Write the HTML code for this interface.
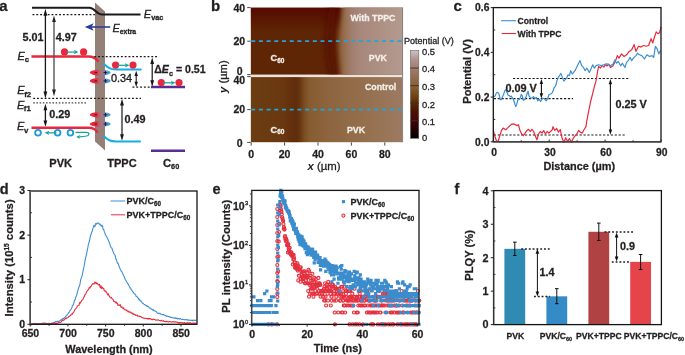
<!DOCTYPE html><html><head><meta charset="utf-8"><style>html,body{margin:0;padding:0;background:#fff;}svg{display:block;filter:blur(0.35px);}</style></head><body>
<svg width="685" height="355" viewBox="0 0 685 355" font-family='"Liberation Sans", sans-serif'>
<defs><linearGradient id="dip" x1="0" x2="1" y1="0" y2="0"><stop offset="0" stop-color="#e8283c"/><stop offset="0.3" stop-color="#e8283c"/><stop offset="0.52" stop-color="#c06878" stop-opacity="0.7"/><stop offset="0.75" stop-color="#6a8cc8" stop-opacity="0.85"/><stop offset="1" stop-color="#1e9de0"/></linearGradient></defs>
<defs><linearGradient id="upH" x1="250.6" x2="402.4" y1="0" y2="0" gradientUnits="userSpaceOnUse"><stop offset="0.0000" stop-color="#5e2406"/><stop offset="0.3254" stop-color="#5f2605"/><stop offset="0.4242" stop-color="#5a1a03"/><stop offset="0.4901" stop-color="#560c01"/><stop offset="0.5362" stop-color="#5a1403"/><stop offset="0.5626" stop-color="#64280a"/><stop offset="0.5823" stop-color="#7a4a22"/><stop offset="0.6021" stop-color="#8c5f3a"/><stop offset="0.6285" stop-color="#9b7360"/><stop offset="0.6548" stop-color="#a27f6e"/><stop offset="0.6943" stop-color="#a88a7c"/><stop offset="0.8524" stop-color="#ad9083"/><stop offset="1.0000" stop-color="#b39a8f"/></linearGradient><clipPath id="upClip"><rect x="250.6" y="7.4" width="151.8" height="67.4"/></clipPath><clipPath id="loClip"><rect x="250.6" y="77.1" width="151.8" height="65.3"/></clipPath><filter id="soft2" x="-20%" y="-20%" width="140%" height="140%"><feGaussianBlur stdDeviation="2.2"/></filter><filter id="soft3" x="-50%" y="-20%" width="200%" height="140%"><feGaussianBlur stdDeviation="3"/></filter><linearGradient id="upR" x1="336" x2="402.4" y1="0" y2="0" gradientUnits="userSpaceOnUse"><stop offset="0" stop-color="#8a5a30"/><stop offset="0.1" stop-color="#946844"/><stop offset="0.2" stop-color="#9e7a66"/><stop offset="0.32" stop-color="#a6867a"/><stop offset="0.65" stop-color="#ad9083"/><stop offset="1" stop-color="#b39a8f"/></linearGradient><linearGradient id="upV" x1="0" x2="0" y1="7.4" y2="32" gradientUnits="userSpaceOnUse"><stop offset="0" stop-color="#540400" stop-opacity="0.8"/><stop offset="0.35" stop-color="#540400" stop-opacity="0.55"/><stop offset="1" stop-color="#540400" stop-opacity="0"/></linearGradient><linearGradient id="loH" x1="250.6" x2="402.4" y1="0" y2="0" gradientUnits="userSpaceOnUse"><stop offset="0.0000" stop-color="#6c3c12"/><stop offset="0.2266" stop-color="#693810"/><stop offset="0.2991" stop-color="#62300c"/><stop offset="0.3254" stop-color="#6a3a12"/><stop offset="0.3518" stop-color="#7a4e24"/><stop offset="0.3913" stop-color="#875c30"/><stop offset="0.5231" stop-color="#8d6540"/><stop offset="0.7207" stop-color="#946e4b"/><stop offset="1.0000" stop-color="#9c7a62"/></linearGradient><linearGradient id="loV" x1="0" x2="0" y1="0" y2="1"><stop offset="0" stop-color="#000" stop-opacity="0"/><stop offset="1" stop-color="#000" stop-opacity="0"/></linearGradient><linearGradient id="cbar" x1="0" x2="0" y1="0" y2="1"><stop offset="0" stop-color="#cdc2c2"/><stop offset="0.1" stop-color="#b09590"/><stop offset="0.2" stop-color="#a07e6e"/><stop offset="0.3" stop-color="#946c50"/><stop offset="0.4" stop-color="#8a6034"/><stop offset="0.5" stop-color="#734818"/><stop offset="0.6" stop-color="#5a2c06"/><stop offset="0.7" stop-color="#4a1004"/><stop offset="0.8" stop-color="#42050a"/><stop offset="0.9" stop-color="#240004"/><stop offset="1" stop-color="#000"/></linearGradient></defs>
<text stroke="#231f20" stroke-width="0.28" x="-0.80" y="10.70" font-size="15" font-weight="bold" font-style="normal" text-anchor="start" fill="#231f20" >a</text>
<polygon points="95,2.5 105,11.6 105,150.4 95,141.5" fill="#948076"/>
<path d="M32,7.7 L89.5,7.7 C95,7.7 96,14.4 102,14.4 L140.5,14.4" fill="none" stroke="#1a1a1a" stroke-width="2"/>
<line x1="32.50" y1="14.50" x2="95.00" y2="14.50" stroke="#1a1a1a" stroke-width="1.25" stroke-dasharray="1.9 1.9"/>
<line x1="110.2" y1="27" x2="90" y2="27" stroke="#2b3d9b" stroke-width="1.6"/>
<path d="M84.8,27 L93.6,23.3 L91.6,27 L93.6,30.7 Z" fill="#2b3d9b"/>
<ellipse cx="100.2" cy="72.6" rx="10.5" ry="2.9" fill="url(#dip)"/>
<line x1="94.70" y1="72.60" x2="97.10" y2="72.60" stroke="#2a1a1a" stroke-width="1.0" />
<line x1="103.50" y1="72.60" x2="107.30" y2="72.60" stroke="#1a1a22" stroke-width="0.95" />
<line x1="105.40" y1="70.70" x2="105.40" y2="74.50" stroke="#1a1a22" stroke-width="0.95" />
<ellipse cx="100.2" cy="80.9" rx="10.5" ry="2.9" fill="url(#dip)"/>
<line x1="94.70" y1="80.90" x2="97.10" y2="80.90" stroke="#2a1a1a" stroke-width="1.0" />
<line x1="103.50" y1="80.90" x2="107.30" y2="80.90" stroke="#1a1a22" stroke-width="0.95" />
<line x1="105.40" y1="79.00" x2="105.40" y2="82.80" stroke="#1a1a22" stroke-width="0.95" />
<ellipse cx="100.2" cy="114.8" rx="10.5" ry="2.9" fill="url(#dip)"/>
<line x1="94.70" y1="114.80" x2="97.10" y2="114.80" stroke="#2a1a1a" stroke-width="1.0" />
<line x1="103.50" y1="114.80" x2="107.30" y2="114.80" stroke="#1a1a22" stroke-width="0.95" />
<line x1="105.40" y1="112.90" x2="105.40" y2="116.70" stroke="#1a1a22" stroke-width="0.95" />
<ellipse cx="100.2" cy="124.0" rx="10.5" ry="2.9" fill="url(#dip)"/>
<line x1="94.70" y1="124.00" x2="97.10" y2="124.00" stroke="#2a1a1a" stroke-width="1.0" />
<line x1="103.50" y1="124.00" x2="107.30" y2="124.00" stroke="#1a1a22" stroke-width="0.95" />
<line x1="105.40" y1="122.10" x2="105.40" y2="125.90" stroke="#1a1a22" stroke-width="0.95" />
<path d="M31.5,56.6 L88,56.6 C93.5,56.6 96.5,58.5 98.2,61.8" fill="none" stroke="#e8283c" stroke-width="2.5"/>
<path d="M31.5,127.7 L88.5,127.7 C93.5,127.7 96.2,129.8 97.6,132.6" fill="none" stroke="#e8283c" stroke-width="2.5"/>
<path d="M104.3,64.2 C108,67.5 110,69.4 116,69.4 L140.8,69.4" fill="none" stroke="#12aee6" stroke-width="2" stroke-linecap="round"/>
<path d="M104.2,136.6 C108,140 110,141.4 116,141.4 L140,141.4" fill="none" stroke="#12aee6" stroke-width="2" stroke-linecap="round"/>
<line x1="151.00" y1="87.00" x2="185.00" y2="87.00" stroke="#5b2d8e" stroke-width="2.4" />
<line x1="151.00" y1="150.80" x2="185.00" y2="150.80" stroke="#5b2d8e" stroke-width="2.4" />
<line x1="94.30" y1="56.60" x2="158.00" y2="56.60" stroke="#1a1a1a" stroke-width="1.2" stroke-dasharray="1.9 1.9"/>
<line x1="33.20" y1="98.30" x2="141.00" y2="98.30" stroke="#1a1a1a" stroke-width="1.2" stroke-dasharray="1.9 1.9"/>
<line x1="33.20" y1="102.90" x2="86.00" y2="102.90" stroke="#4a4a4a" stroke-width="1.25" stroke-dasharray="1.6 1.6"/>
<line x1="132.50" y1="87.20" x2="151.00" y2="87.20" stroke="#1a1a1a" stroke-width="1.2" stroke-dasharray="1.9 1.9"/>
<circle cx="64.50" cy="51.90" r="3.6" fill="#e8283c"/>
<circle cx="83.60" cy="51.90" r="3.6" fill="#e8283c"/>
<line x1="66.60" y1="52.10" x2="75.00" y2="52.10" stroke="#17a398" stroke-width="1.25" />
<path d="M78.50,52.10 L73.90,50.00 L74.90,52.10 L73.90,54.20 Z" fill="#17a398"/>
<circle cx="115.60" cy="65.10" r="3.6" fill="#e8283c"/>
<circle cx="133.00" cy="65.10" r="3.6" fill="#e8283c"/>
<line x1="117.50" y1="65.30" x2="126.00" y2="65.30" stroke="#17a398" stroke-width="1.25" />
<path d="M129.50,65.30 L124.90,63.20 L125.90,65.30 L124.90,67.40 Z" fill="#17a398"/>
<circle cx="161.30" cy="82.60" r="3.6" fill="#e8283c"/>
<circle cx="179.00" cy="82.60" r="3.6" fill="#e8283c"/>
<line x1="163.00" y1="82.80" x2="172.00" y2="82.80" stroke="#17a398" stroke-width="1.25" />
<path d="M175.50,82.80 L170.90,80.70 L171.90,82.80 L170.90,84.90 Z" fill="#17a398"/>
<circle cx="38.0" cy="132.8" r="2.85" fill="none" stroke="#1b9ad9" stroke-width="1.8"/>
<circle cx="57.6" cy="132.8" r="2.85" fill="none" stroke="#1b9ad9" stroke-width="1.8"/>
<circle cx="70.4" cy="132.8" r="2.85" fill="none" stroke="#1b9ad9" stroke-width="1.8"/>
<line x1="56.60" y1="132.80" x2="48.10" y2="132.80" stroke="#17a398" stroke-width="1.25" />
<path d="M44.60,132.80 L49.20,130.70 L48.20,132.80 L49.20,134.90 Z" fill="#17a398"/>
<path d="M75.5,132.4 L86,132.4 C90,132.4 89.5,135.2 86.5,136.0 C84,136.6 81,136.8 79.5,136.8" fill="none" stroke="#17a398" stroke-width="1.2"/>
<path d="M76,136.9 L80.2,135.0 L79.4,136.9 L80.2,138.8 Z" fill="#17a398"/>
<line x1="45.40" y1="14.40" x2="45.40" y2="93.00" stroke="#151515" stroke-width="1.3" />
<path d="M45.40,8.80 L43.50,15.80 L47.30,15.80 Z" fill="#151515"/>
<path d="M45.40,98.60 L43.50,91.60 L47.30,91.60 Z" fill="#151515"/>
<line x1="54.00" y1="20.68" x2="54.00" y2="90.92" stroke="#555" stroke-width="1.4" />
<path d="M54.00,15.40 L52.10,22.00 L55.90,22.00 Z" fill="#222"/>
<path d="M54.00,96.20 L52.10,89.60 L55.90,89.60 Z" fill="#222"/>
<line x1="45.40" y1="108.92" x2="45.40" y2="121.68" stroke="#151515" stroke-width="1.3" />
<path d="M45.40,103.80 L43.50,110.20 L47.30,110.20 Z" fill="#151515"/>
<path d="M45.40,126.80 L43.50,120.40 L47.30,120.40 Z" fill="#151515"/>
<line x1="136.20" y1="74.96" x2="136.20" y2="82.84" stroke="#151515" stroke-width="1.1" />
<path d="M136.20,70.80 L134.50,76.00 L137.90,76.00 Z" fill="#151515"/>
<path d="M136.20,87.00 L134.50,81.80 L137.90,81.80 Z" fill="#151515"/>
<line x1="152.20" y1="62.68" x2="152.20" y2="81.52" stroke="#151515" stroke-width="1.2" />
<path d="M152.20,57.40 L150.30,64.00 L154.10,64.00 Z" fill="#151515"/>
<path d="M152.20,86.80 L150.30,80.20 L154.10,80.20 Z" fill="#151515"/>
<line x1="122.00" y1="104.08" x2="122.00" y2="135.52" stroke="#151515" stroke-width="1.2" />
<path d="M122.00,98.80 L120.10,105.40 L123.90,105.40 Z" fill="#151515"/>
<path d="M122.00,140.80 L120.10,134.20 L123.90,134.20 Z" fill="#151515"/>
<text stroke="#231f20" stroke-width="0.28" x="22.40" y="40.90" font-size="10.8" font-weight="bold" font-style="normal" text-anchor="start" fill="#231f20" >5.01</text>
<text stroke="#231f20" stroke-width="0.28" x="55.70" y="40.90" font-size="10.8" font-weight="bold" font-style="normal" text-anchor="start" fill="#231f20" >4.97</text>
<text stroke="#231f20" stroke-width="0.28" x="49.20" y="117.90" font-size="10.8" font-weight="bold" font-style="normal" text-anchor="start" fill="#231f20" >0.29</text>
<text x="110.90" y="82.00" font-size="10.9" font-weight="normal" font-style="normal" text-anchor="start" fill="#231f20" stroke="#231f20" stroke-width="0.35">0.34</text>
<text stroke="#231f20" stroke-width="0.28" x="124.60" y="122.90" font-size="10.8" font-weight="bold" font-style="normal" text-anchor="start" fill="#231f20" >0.49</text>
<text stroke="#231f20" stroke-width="0.28" x="154.2" y="73.4" font-size="10.6" font-weight="bold" fill="#231f20">Δ<tspan font-style="italic">E</tspan><tspan font-size="7.3" dy="2.3">c</tspan><tspan dy="-2.3"> = 0.51</tspan></text>
<text stroke="#231f20" stroke-width="0.3" x="17.60" y="59.80" font-size="11" font-weight="normal" font-style="italic" fill="#231f20">E<tspan font-size="7.8" font-style="normal" font-weight="bold" dx="-0.2" dy="2.3">c</tspan></text>
<text stroke="#231f20" stroke-width="0.3" x="17.30" y="94.20" font-size="11" font-weight="normal" font-style="italic" fill="#231f20">E<tspan font-size="7.8" font-style="normal" font-weight="bold" dx="-0.5" dy="2.3">f2</tspan></text>
<text stroke="#231f20" stroke-width="0.3" x="17.00" y="109.00" font-size="11" font-weight="normal" font-style="italic" fill="#231f20">E<tspan font-size="7.8" font-style="normal" font-weight="bold" dx="-0.5" dy="2.3">f1</tspan></text>
<text stroke="#231f20" stroke-width="0.3" x="17.00" y="130.20" font-size="11" font-weight="normal" font-style="italic" fill="#231f20">E<tspan font-size="7.8" font-style="normal" font-weight="bold" dx="-0.3" dy="2.3">v</tspan></text>
<text stroke="#231f20" stroke-width="0.3" x="143.80" y="18.10" font-size="11" font-weight="normal" font-style="italic" fill="#231f20">E<tspan font-size="7.3" font-style="normal" font-weight="bold" dx="0" dy="2.3">vac</tspan></text>
<text stroke="#231f20" stroke-width="0.3" x="112.50" y="31.80" font-size="11" font-weight="normal" font-style="italic" fill="#231f20">E<tspan font-size="6.8" font-style="normal" font-weight="bold" dx="0" dy="2.3">extra</tspan></text>
<text stroke="#231f20" stroke-width="0.28" x="49.30" y="167.20" font-size="11" font-weight="bold" font-style="normal" text-anchor="start" fill="#231f20" >PVK</text>
<text stroke="#231f20" stroke-width="0.28" x="107.30" y="167.20" font-size="11" font-weight="bold" font-style="normal" text-anchor="start" fill="#231f20" >TPPC</text>
<text stroke="#231f20" stroke-width="0.28" x="163.0" y="167.2" font-size="11.2" font-weight="bold" fill="#231f20">C<tspan font-size="7.3" dy="2.1">60</tspan></text>
<text stroke="#231f20" stroke-width="0.28" x="211.00" y="10.50" font-size="15" font-weight="bold" font-style="normal" text-anchor="start" fill="#231f20" >b</text>
<rect x="250.6" y="74.6" width="151.8" height="2.6" fill="#ebe3dc"/>
<g clip-path="url(#upClip)">
<rect x="250.6" y="7.4" width="151.8" height="67.4" fill="#5f2605"/>
<rect x="250.6" y="7.4" width="90" height="26" fill="url(#upV)"/>
<path d="M330,0 C326,25 324,45 327,60 L330,80 L337,80 C334,60 333,45 334,25 L337,0 Z" fill="#560800" opacity="0.85" filter="url(#soft3)"/>
<path d="M342.4,-5 L342.2,10 C341,22 338,34 338.2,45 C338.4,55 340,65 341,80 L420,80 L420,-5 Z" fill="url(#upR)" filter="url(#soft2)"/>
</g>
<g clip-path="url(#loClip)">
<rect x="250.6" y="77.1" width="151.8" height="65.3" fill="url(#loH)"/>
<rect x="289" y="70" width="11" height="80" fill="#5a2408" opacity="0.2" filter="url(#soft3)"/>
</g>
<line x1="402.60" y1="7.40" x2="402.60" y2="142.40" stroke="#7a7470" stroke-width="0.9" />
<line x1="251.2" y1="41.2" x2="402" y2="41.2" stroke="#21a3dc" stroke-width="1.7" stroke-dasharray="4 3.7"/>
<line x1="251.2" y1="109.6" x2="402" y2="109.6" stroke="#21a3dc" stroke-width="1.7" stroke-dasharray="4 3.7"/>
<text stroke="#f4efe9" stroke-width="0.28" x="350.60" y="20.60" font-size="8.8" font-weight="bold" font-style="normal" text-anchor="start" fill="#f4efe9" >With TPPC</text>
<text stroke="#f4efe9" stroke-width="0.28" x="368.80" y="60.60" font-size="8.8" font-weight="bold" font-style="normal" text-anchor="start" fill="#f4efe9" >PVK</text>
<text stroke="#f4efe9" stroke-width="0.28" x="270.6" y="61.3" font-size="9.2" font-weight="bold" fill="#f4efe9">C<tspan font-size="6.5" dy="1.6">60</tspan></text>
<text stroke="#f4efe9" stroke-width="0.28" x="365.00" y="89.50" font-size="8.8" font-weight="bold" font-style="normal" text-anchor="start" fill="#f4efe9" >Control</text>
<text stroke="#f4efe9" stroke-width="0.28" x="347.00" y="132.60" font-size="8.8" font-weight="bold" font-style="normal" text-anchor="start" fill="#f4efe9" >PVK</text>
<text stroke="#f4efe9" stroke-width="0.28" x="270.6" y="132.6" font-size="9.2" font-weight="bold" fill="#f4efe9">C<tspan font-size="6.5" dy="1.6">60</tspan></text>
<line x1="247.20" y1="7.60" x2="250.60" y2="7.60" stroke="#333" stroke-width="0.9" />
<line x1="247.20" y1="41.20" x2="250.60" y2="41.20" stroke="#333" stroke-width="0.9" />
<line x1="247.20" y1="74.60" x2="250.60" y2="74.60" stroke="#333" stroke-width="0.9" />
<line x1="247.20" y1="76.60" x2="250.60" y2="76.60" stroke="#333" stroke-width="0.9" />
<line x1="247.20" y1="109.60" x2="250.60" y2="109.60" stroke="#333" stroke-width="0.9" />
<line x1="247.20" y1="142.40" x2="250.60" y2="142.40" stroke="#333" stroke-width="0.9" />
<text stroke="#231f20" stroke-width="0.28" x="245.20" y="11.80" font-size="10.5" font-weight="bold" font-style="normal" text-anchor="end" fill="#231f20" >40</text>
<text stroke="#231f20" stroke-width="0.28" x="245.20" y="45.00" font-size="10.5" font-weight="bold" font-style="normal" text-anchor="end" fill="#231f20" >20</text>
<text stroke="#231f20" stroke-width="0.28" x="242.60" y="75.30" font-size="10.5" font-weight="bold" font-style="normal" text-anchor="end" fill="#231f20" >0</text>
<text stroke="#231f20" stroke-width="0.28" x="245.20" y="83.60" font-size="10.5" font-weight="bold" font-style="normal" text-anchor="end" fill="#231f20" >40</text>
<text stroke="#231f20" stroke-width="0.28" x="245.20" y="113.40" font-size="10.5" font-weight="bold" font-style="normal" text-anchor="end" fill="#231f20" >20</text>
<text stroke="#231f20" stroke-width="0.28" x="242.60" y="146.70" font-size="10.5" font-weight="bold" font-style="normal" text-anchor="end" fill="#231f20" >0</text>
<line x1="251.20" y1="142.40" x2="251.20" y2="145.60" stroke="#333" stroke-width="0.9" />
<text stroke="#231f20" stroke-width="0.28" x="251.20" y="158.20" font-size="10.5" font-weight="bold" font-style="normal" text-anchor="middle" fill="#231f20" >0</text>
<line x1="284.60" y1="142.40" x2="284.60" y2="145.60" stroke="#333" stroke-width="0.9" />
<text stroke="#231f20" stroke-width="0.28" x="284.60" y="158.20" font-size="10.5" font-weight="bold" font-style="normal" text-anchor="middle" fill="#231f20" >20</text>
<line x1="318.00" y1="142.40" x2="318.00" y2="145.60" stroke="#333" stroke-width="0.9" />
<text stroke="#231f20" stroke-width="0.28" x="318.00" y="158.20" font-size="10.5" font-weight="bold" font-style="normal" text-anchor="middle" fill="#231f20" >40</text>
<line x1="351.40" y1="142.40" x2="351.40" y2="145.60" stroke="#333" stroke-width="0.9" />
<text stroke="#231f20" stroke-width="0.28" x="351.40" y="158.20" font-size="10.5" font-weight="bold" font-style="normal" text-anchor="middle" fill="#231f20" >60</text>
<line x1="384.80" y1="142.40" x2="384.80" y2="145.60" stroke="#333" stroke-width="0.9" />
<text stroke="#231f20" stroke-width="0.28" x="384.80" y="158.20" font-size="10.5" font-weight="bold" font-style="normal" text-anchor="middle" fill="#231f20" >80</text>
<text x="307.4" y="170.3" font-size="11.4" fill="#231f20" stroke="#231f20" stroke-width="0.3"><tspan font-style="italic" font-weight="bold" stroke-width="0">x</tspan> (µm)</text>
<text transform="translate(227.0,92.9) rotate(-90)" font-size="11.2" fill="#231f20" stroke="#231f20" stroke-width="0.3"><tspan font-style="italic" font-weight="bold" stroke-width="0">y</tspan> (µm)</text>
<rect x="410.4" y="50.5" width="8.4" height="87.8" fill="url(#cbar)"/>
<rect x="410.4" y="50.5" width="8.4" height="87.8" fill="none" stroke="#6b6360" stroke-width="0.6"/>
<line x1="410.40" y1="120.74" x2="418.80" y2="120.74" stroke="#3a302c" stroke-width="0.9" />
<line x1="410.40" y1="103.18" x2="418.80" y2="103.18" stroke="#3a302c" stroke-width="0.9" />
<line x1="410.40" y1="85.62" x2="418.80" y2="85.62" stroke="#3a302c" stroke-width="0.9" />
<line x1="410.40" y1="68.06" x2="418.80" y2="68.06" stroke="#3a302c" stroke-width="0.9" />
<text stroke="#231f20" stroke-width="0.3" x="422.00" y="140.90" font-size="9.4" font-weight="normal" font-style="normal" text-anchor="start" fill="#231f20" >0</text>
<text stroke="#231f20" stroke-width="0.3" x="422.00" y="125.14" font-size="9.4" font-weight="normal" font-style="normal" text-anchor="start" fill="#231f20" >0.1</text>
<text stroke="#231f20" stroke-width="0.3" x="422.00" y="107.58" font-size="9.4" font-weight="normal" font-style="normal" text-anchor="start" fill="#231f20" >0.2</text>
<text stroke="#231f20" stroke-width="0.3" x="422.00" y="90.02" font-size="9.4" font-weight="normal" font-style="normal" text-anchor="start" fill="#231f20" >0.3</text>
<text stroke="#231f20" stroke-width="0.3" x="422.00" y="72.46" font-size="9.4" font-weight="normal" font-style="normal" text-anchor="start" fill="#231f20" >0.4</text>
<text stroke="#231f20" stroke-width="0.3" x="422.00" y="54.90" font-size="9.4" font-weight="normal" font-style="normal" text-anchor="start" fill="#231f20" >0.5</text>
<text stroke="#231f20" stroke-width="0.3" x="404.00" y="44.00" font-size="9.05" font-weight="normal" font-style="normal" text-anchor="start" fill="#231f20" >Potential (V)</text>
<text stroke="#231f20" stroke-width="0.28" x="453.40" y="10.80" font-size="15" font-weight="bold" font-style="normal" text-anchor="start" fill="#231f20" >c</text>
<line x1="513.00" y1="78.50" x2="629.00" y2="78.50" stroke="#1a1a1a" stroke-width="1.2" stroke-dasharray="2.2 1.7"/>
<line x1="493.80" y1="98.70" x2="573.00" y2="98.70" stroke="#1a1a1a" stroke-width="1.2" stroke-dasharray="2.2 1.7"/>
<line x1="493.80" y1="135.00" x2="626.00" y2="135.00" stroke="#1a1a1a" stroke-width="1.2" stroke-dasharray="2.2 1.7"/>
<path d="M493.30,130.60 L494.70,135.70 L496.40,140.80 L498.10,141.50 L499.80,135.70 L501.50,130.60 L503.10,128.10 L505.70,129.80 L508.20,127.30 L509.90,125.60 L511.60,124.20 L514.10,123.90 L516.70,125.60 L518.40,124.70 L520.00,130.60 L521.70,134.00 L523.40,135.70 L525.10,133.20 L526.80,130.60 L528.50,129.30 L530.20,131.50 L531.90,129.30 L533.60,131.50 L535.30,135.70 L536.90,139.90 L538.60,134.00 L540.30,131.50 L542.00,133.20 L543.70,130.60 L545.40,134.00 L547.10,131.50 L548.80,133.20 L550.50,131.50 L552.20,129.80 L553.00,126.70 L554.80,130.40 L556.70,128.50 L558.50,132.20 L560.30,129.50 L562.20,138.60 L564.00,142.30 L565.80,137.70 L567.70,141.40 L569.50,138.60 L571.30,142.30 L573.10,138.60 L575.00,135.90 L576.80,134.00 L578.60,130.40 L580.50,132.20 L582.30,133.10 L584.10,129.50 L586.00,126.70 L586.90,120.30 L588.70,111.10 L590.50,102.00 L592.40,94.70 L594.20,87.30 L596.00,80.90 L597.50,72.00 L598.60,66.50 L600.50,68.00 L602.00,65.60 L604.00,67.00 L605.40,64.80 L607.00,66.00 L608.80,64.30 L610.50,67.50 L613.10,65.80 L615.60,60.70 L617.30,55.60 L619.00,58.10 L621.50,53.90 L624.10,56.50 L626.60,54.80 L629.20,51.40 L631.70,49.70 L634.20,44.60 L635.90,51.40 L638.50,46.30 L641.00,47.10 L643.50,45.50 L646.10,46.30 L648.60,45.50 L651.10,38.70 L652.80,42.90 L654.50,37.00 L656.20,31.90 L657.90,33.60 L659.60,32.80 L661.00,26.80" fill="none" stroke="#e8283c" stroke-width="1.2" stroke-linejoin="round"/>
<path d="M493.50,97.00 L495.10,96.10 L496.40,92.70 L497.60,92.30 L498.90,93.90 L500.20,99.00 L501.00,99.90 L502.30,97.30 L503.60,94.40 L504.80,90.60 L505.70,89.70 L507.00,92.30 L508.20,95.20 L509.50,95.60 L510.30,96.90 L511.20,96.10 L512.40,97.80 L513.70,100.30 L515.00,104.50 L515.80,106.60 L516.70,104.50 L517.50,101.10 L518.40,99.00 L519.60,99.40 L520.50,96.90 L521.30,94.40 L522.20,95.60 L523.40,100.30 L524.70,99.40 L526.00,96.90 L527.20,93.50 L528.10,91.00 L528.90,95.60 L530.20,97.80 L532.10,98.00 L533.50,96.60 L534.90,98.70 L536.30,97.30 L537.70,100.80 L539.20,99.40 L540.60,101.50 L542.70,98.00 L544.10,98.70 L546.20,100.80 L547.60,98.70 L549.00,94.50 L551.10,93.80 L552.50,92.40 L553.90,88.20 L555.40,86.10 L556.10,84.60 L556.80,81.10 L558.20,77.60 L559.60,75.50 L561.00,73.40 L562.40,77.60 L563.80,81.10 L565.20,79.70 L566.60,78.30 L568.00,74.80 L569.40,75.50 L570.70,70.70 L572.40,74.00 L575.00,70.70 L577.50,65.60 L580.00,60.60 L581.70,65.60 L583.40,67.30 L585.10,70.70 L586.80,68.20 L589.30,72.40 L591.00,69.00 L592.70,64.80 L594.40,68.20 L596.10,65.60 L598.60,64.80 L601.20,65.60 L603.70,64.80 L606.20,63.90 L608.00,64.10 L610.50,65.80 L613.10,64.10 L614.80,59.80 L616.50,63.20 L618.20,61.50 L620.70,65.80 L622.40,63.20 L624.90,67.50 L626.60,62.40 L628.30,60.70 L630.00,57.30 L631.70,60.70 L633.40,58.10 L635.90,55.60 L637.60,53.10 L639.30,54.80 L641.80,55.60 L644.40,59.00 L646.90,54.80 L649.50,56.50 L652.00,55.60 L653.70,57.30 L655.40,46.30 L657.10,48.80 L658.80,53.90 L660.50,50.50" fill="none" stroke="#3b8fd2" stroke-width="1.2" stroke-linejoin="round"/>
<rect x="493.3" y="7.6" width="167.70" height="134.20" fill="none" stroke="#141414" stroke-width="1.3"/>
<line x1="493.30" y1="141.80" x2="661.00" y2="141.80" stroke="#444" stroke-width="1.6" />
<line x1="490.70" y1="141.80" x2="493.30" y2="141.80" stroke="#222" stroke-width="1" />
<text stroke="#231f20" stroke-width="0.28" x="489.40" y="145.50" font-size="10.3" font-weight="bold" font-style="normal" text-anchor="end" fill="#231f20" >0.0</text>
<line x1="490.70" y1="97.07" x2="493.30" y2="97.07" stroke="#222" stroke-width="1" />
<text stroke="#231f20" stroke-width="0.28" x="489.40" y="100.77" font-size="10.3" font-weight="bold" font-style="normal" text-anchor="end" fill="#231f20" >0.2</text>
<line x1="490.70" y1="52.34" x2="493.30" y2="52.34" stroke="#222" stroke-width="1" />
<text stroke="#231f20" stroke-width="0.28" x="489.40" y="56.04" font-size="10.3" font-weight="bold" font-style="normal" text-anchor="end" fill="#231f20" >0.4</text>
<line x1="490.70" y1="7.61" x2="493.30" y2="7.61" stroke="#222" stroke-width="1" />
<text stroke="#231f20" stroke-width="0.28" x="489.40" y="11.31" font-size="10.3" font-weight="bold" font-style="normal" text-anchor="end" fill="#231f20" >0.6</text>
<line x1="493.30" y1="119.43" x2="495.30" y2="119.43" stroke="#222" stroke-width="0.9" />
<line x1="493.30" y1="74.69" x2="495.30" y2="74.69" stroke="#222" stroke-width="0.9" />
<line x1="493.30" y1="29.95" x2="495.30" y2="29.95" stroke="#222" stroke-width="0.9" />
<line x1="493.30" y1="141.80" x2="493.30" y2="139.60" stroke="#222" stroke-width="1" />
<text stroke="#231f20" stroke-width="0.28" x="494.10" y="156.40" font-size="10.3" font-weight="bold" font-style="normal" text-anchor="middle" fill="#231f20" >0</text>
<line x1="549.20" y1="141.80" x2="549.20" y2="139.60" stroke="#222" stroke-width="1" />
<text stroke="#231f20" stroke-width="0.28" x="550.00" y="156.40" font-size="10.3" font-weight="bold" font-style="normal" text-anchor="middle" fill="#231f20" >30</text>
<line x1="605.10" y1="141.80" x2="605.10" y2="139.60" stroke="#222" stroke-width="1" />
<text stroke="#231f20" stroke-width="0.28" x="605.90" y="156.40" font-size="10.3" font-weight="bold" font-style="normal" text-anchor="middle" fill="#231f20" >60</text>
<line x1="661.00" y1="141.80" x2="661.00" y2="139.60" stroke="#222" stroke-width="1" />
<text stroke="#231f20" stroke-width="0.28" x="661.80" y="156.40" font-size="10.3" font-weight="bold" font-style="normal" text-anchor="middle" fill="#231f20" >90</text>
<line x1="521.25" y1="141.80" x2="521.25" y2="140.20" stroke="#222" stroke-width="0.9" />
<line x1="577.15" y1="141.80" x2="577.15" y2="140.20" stroke="#222" stroke-width="0.9" />
<line x1="633.05" y1="141.80" x2="633.05" y2="140.20" stroke="#222" stroke-width="0.9" />
<text stroke="#231f20" stroke-width="0.28" x="579.20" y="170.00" font-size="10.9" font-weight="bold" font-style="normal" text-anchor="middle" fill="#231f20" >Distance (µm)</text>
<text stroke="#231f20" stroke-width="0.28" transform="translate(471.4,71.4) rotate(-90)" font-size="11.1" font-weight="bold" text-anchor="middle" fill="#231f20">Potential (V)</text>
<line x1="501.10" y1="20.70" x2="516.00" y2="20.70" stroke="#3b8fd2" stroke-width="1.1" />
<line x1="501.70" y1="33.50" x2="516.00" y2="33.50" stroke="#e8283c" stroke-width="1.1" />
<text stroke="#231f20" stroke-width="0.28" x="517.60" y="23.90" font-size="8.6" font-weight="bold" font-style="normal" text-anchor="start" fill="#231f20" >Control</text>
<text stroke="#231f20" stroke-width="0.28" x="517.60" y="36.60" font-size="8.6" font-weight="bold" font-style="normal" text-anchor="start" fill="#231f20" >With TPPC</text>
<line x1="541.40" y1="83.06" x2="541.40" y2="94.24" stroke="#111" stroke-width="1.1" />
<path d="M541.40,78.90 L539.70,84.10 L543.10,84.10 Z" fill="#111"/>
<path d="M541.40,98.40 L539.70,93.20 L543.10,93.20 Z" fill="#111"/>
<line x1="610.40" y1="83.22" x2="610.40" y2="130.48" stroke="#111" stroke-width="1.1" />
<path d="M610.40,78.90 L608.70,84.30 L612.10,84.30 Z" fill="#111"/>
<path d="M610.40,134.80 L608.70,129.40 L612.10,129.40 Z" fill="#111"/>
<text stroke="#231f20" stroke-width="0.28" x="505.40" y="92.40" font-size="10.9" font-weight="bold" font-style="normal" text-anchor="start" fill="#231f20" >0.09 V</text>
<text stroke="#231f20" stroke-width="0.28" x="615.40" y="108.00" font-size="10.9" font-weight="bold" font-style="normal" text-anchor="start" fill="#231f20" >0.25 V</text>
<text stroke="#231f20" stroke-width="0.28" x="-0.30" y="193.60" font-size="14.5" font-weight="bold" font-style="normal" text-anchor="start" fill="#231f20" >d</text>
<path d="M30.60,323.90 L31.15,324.22 L31.70,324.16 L32.25,323.70 L32.80,323.74 L33.35,323.66 L33.90,323.92 L34.45,323.75 L35.00,323.93 L35.55,323.26 L36.10,324.10 L36.65,323.67 L37.20,323.85 L37.75,323.62 L38.30,323.55 L38.85,323.75 L39.40,323.82 L39.95,323.55 L40.50,323.55 L41.05,323.75 L41.60,323.35 L42.15,323.17 L42.70,323.65 L43.25,323.37 L43.80,323.05 L44.35,323.32 L44.90,323.40 L45.45,323.21 L46.00,323.12 L46.55,323.50 L47.10,323.71 L47.65,323.41 L48.20,323.27 L48.75,323.54 L49.30,323.61 L49.85,323.33 L50.40,323.51 L50.95,323.58 L51.50,323.18 L52.05,322.91 L52.60,323.08 L53.15,322.91 L53.70,322.97 L54.25,322.19 L54.80,322.18 L55.35,321.95 L55.90,321.54 L56.45,321.85 L57.00,321.78 L57.55,321.25 L58.10,321.61 L58.65,321.25 L59.20,320.97 L59.75,320.67 L60.30,320.56 L60.85,319.67 L61.40,319.91 L61.95,319.60 L62.50,318.62 L63.05,318.86 L63.60,318.31 L64.15,318.16 L64.70,317.32 L65.25,316.89 L65.80,316.42 L66.35,315.45 L66.90,315.23 L67.45,314.35 L68.00,313.84 L68.55,312.77 L69.10,312.46 L69.65,311.46 L70.20,310.30 L70.75,309.59 L71.30,308.79 L71.85,307.91 L72.40,305.66 L72.95,305.29 L73.50,303.83 L74.05,302.23 L74.60,300.41 L75.15,299.70 L75.70,297.14 L76.25,296.20 L76.80,294.83 L77.35,291.93 L77.90,290.63 L78.45,288.30 L79.00,286.99 L79.55,285.55 L80.10,283.75 L80.65,279.93 L81.20,278.38 L81.75,276.83 L82.30,275.03 L82.85,272.11 L83.40,269.04 L83.95,266.92 L84.50,263.94 L85.05,260.97 L85.60,257.83 L86.15,255.77 L86.70,253.12 L87.25,250.30 L87.80,247.69 L88.35,244.53 L88.90,242.65 L89.45,241.48 L90.00,238.21 L90.55,235.01 L91.10,234.71 L91.65,232.15 L92.20,231.62 L92.75,228.83 L93.30,227.21 L93.85,225.36 L94.40,226.46 L94.95,226.67 L95.50,223.68 L96.05,223.54 L96.60,224.22 L97.15,222.95 L97.70,223.21 L98.25,223.06 L98.80,223.45 L99.35,224.33 L99.90,223.97 L100.45,225.26 L101.00,224.99 L101.55,226.30 L102.10,225.26 L102.65,226.71 L103.20,229.45 L103.75,229.63 L104.30,231.69 L104.85,232.88 L105.40,234.62 L105.95,235.51 L106.50,236.92 L107.05,237.45 L107.60,238.37 L108.15,239.67 L108.70,241.21 L109.25,242.21 L109.80,244.01 L110.35,245.68 L110.90,247.21 L111.45,248.04 L112.00,248.15 L112.55,250.36 L113.10,251.59 L113.65,253.19 L114.20,254.05 L114.75,254.59 L115.30,255.91 L115.85,258.93 L116.40,259.63 L116.95,261.65 L117.50,263.20 L118.05,262.95 L118.60,265.03 L119.15,266.47 L119.70,267.87 L120.25,269.15 L120.80,270.17 L121.35,271.29 L121.90,271.52 L122.45,273.27 L123.00,274.04 L123.55,275.56 L124.10,276.39 L124.65,278.04 L125.20,279.26 L125.75,280.12 L126.30,281.19 L126.85,282.10 L127.40,282.83 L127.95,283.91 L128.50,284.69 L129.05,285.99 L129.60,286.74 L130.15,287.91 L130.70,288.02 L131.25,289.89 L131.80,290.09 L132.35,290.95 L132.90,291.95 L133.45,292.52 L134.00,293.53 L134.55,293.82 L135.10,294.25 L135.65,294.97 L136.20,296.47 L136.75,296.65 L137.30,296.86 L137.85,297.98 L138.40,298.04 L138.95,299.92 L139.50,299.27 L140.05,300.59 L140.60,301.18 L141.15,300.99 L141.70,302.14 L142.25,302.89 L142.80,303.18 L143.35,303.57 L143.90,304.26 L144.45,304.41 L145.00,304.88 L145.55,305.09 L146.10,305.69 L146.65,305.47 L147.20,306.37 L147.75,306.25 L148.30,306.38 L148.85,307.22 L149.40,308.05 L149.95,308.21 L150.50,308.14 L151.05,308.96 L151.60,309.00 L152.15,309.51 L152.70,309.96 L153.25,309.55 L153.80,310.71 L154.35,310.68 L154.90,311.13 L155.45,311.21 L156.00,311.51 L156.55,311.98 L157.10,312.80 L157.65,313.31 L158.20,313.03 L158.75,313.61 L159.30,313.42 L159.85,313.13 L160.40,313.96 L160.95,314.25 L161.50,314.19 L162.05,314.59 L162.60,314.86 L163.15,314.61 L163.70,314.60 L164.25,315.14 L164.80,315.31 L165.35,315.43 L165.90,315.97 L166.45,316.33 L167.00,315.85 L167.55,316.32 L168.10,316.53 L168.65,316.61 L169.20,316.86 L169.75,316.60 L170.30,317.08 L170.85,317.60 L171.40,317.41 L171.95,317.15 L172.50,317.65 L173.05,317.97 L173.60,317.85 L174.15,317.71 L174.70,318.43 L175.25,317.77 L175.80,318.38 L176.35,318.35 L176.90,318.13 L177.45,318.91 L178.00,318.77 L178.55,318.46 L179.10,319.05 L179.65,318.86 L180.20,318.55 L180.75,318.96 L181.30,319.30 L181.85,319.46 L182.40,319.39 L182.95,319.40 L183.50,319.57 L184.05,319.43 L184.60,319.86 L185.15,319.64 L185.70,319.74 L186.25,319.87 L186.80,319.51 L187.35,319.67 L187.90,320.35 L188.45,320.10 L189.00,320.00 L189.55,320.24 L190.10,320.09 L190.65,320.38 L191.20,320.21 L191.75,320.52 L192.30,320.07 L192.85,320.86 L193.40,320.36 L193.95,320.06 L194.50,320.41 L195.05,320.34 L195.60,320.43 L196.15,320.02" fill="none" stroke="#3d8fd4" stroke-width="1.1" stroke-linejoin="round"/>
<path d="M30.60,324.10 L31.15,324.92 L31.70,323.67 L32.25,324.08 L32.80,323.91 L33.35,324.04 L33.90,323.52 L34.45,323.69 L35.00,324.09 L35.55,323.96 L36.10,324.38 L36.65,323.78 L37.20,323.99 L37.75,324.68 L38.30,323.73 L38.85,323.69 L39.40,323.90 L39.95,323.89 L40.50,324.11 L41.05,323.91 L41.60,323.68 L42.15,323.91 L42.70,324.52 L43.25,324.16 L43.80,323.11 L44.35,323.78 L44.90,323.58 L45.45,323.95 L46.00,323.73 L46.55,324.26 L47.10,323.99 L47.65,323.97 L48.20,323.77 L48.75,323.69 L49.30,323.77 L49.85,324.00 L50.40,323.78 L50.95,323.53 L51.50,323.93 L52.05,323.62 L52.60,323.52 L53.15,323.31 L53.70,323.33 L54.25,323.28 L54.80,322.68 L55.35,323.63 L55.90,323.47 L56.45,323.22 L57.00,323.46 L57.55,323.18 L58.10,323.00 L58.65,322.03 L59.20,322.41 L59.75,322.36 L60.30,322.39 L60.85,322.16 L61.40,321.74 L61.95,320.66 L62.50,320.02 L63.05,320.49 L63.60,319.98 L64.15,319.93 L64.70,319.25 L65.25,319.02 L65.80,318.14 L66.35,318.43 L66.90,317.79 L67.45,317.70 L68.00,317.37 L68.55,316.79 L69.10,316.53 L69.65,315.99 L70.20,315.82 L70.75,315.26 L71.30,314.38 L71.85,313.83 L72.40,314.12 L72.95,312.72 L73.50,312.42 L74.05,311.40 L74.60,310.19 L75.15,309.30 L75.70,308.88 L76.25,308.18 L76.80,307.63 L77.35,306.04 L77.90,305.65 L78.45,305.20 L79.00,305.34 L79.55,302.63 L80.10,303.31 L80.65,302.03 L81.20,301.73 L81.75,300.37 L82.30,299.94 L82.85,299.69 L83.40,298.05 L83.95,297.13 L84.50,296.13 L85.05,294.48 L85.60,294.34 L86.15,292.92 L86.70,291.57 L87.25,291.12 L87.80,290.06 L88.35,289.85 L88.90,288.47 L89.45,287.28 L90.00,287.86 L90.55,286.75 L91.10,286.28 L91.65,285.27 L92.20,284.33 L92.75,283.72 L93.30,283.49 L93.85,284.15 L94.40,283.34 L94.95,282.07 L95.50,283.26 L96.05,282.42 L96.60,283.91 L97.15,283.21 L97.70,283.52 L98.25,284.87 L98.80,285.06 L99.35,284.26 L99.90,286.43 L100.45,287.86 L101.00,285.67 L101.55,288.50 L102.10,287.21 L102.65,287.89 L103.20,288.68 L103.75,288.40 L104.30,290.88 L104.85,290.99 L105.40,290.89 L105.95,291.96 L106.50,291.91 L107.05,293.37 L107.60,294.81 L108.15,293.74 L108.70,295.09 L109.25,295.98 L109.80,297.04 L110.35,297.75 L110.90,297.23 L111.45,297.62 L112.00,298.86 L112.55,298.94 L113.10,299.53 L113.65,300.84 L114.20,301.73 L114.75,301.54 L115.30,301.87 L115.85,302.82 L116.40,302.07 L116.95,303.49 L117.50,303.38 L118.05,305.49 L118.60,305.02 L119.15,305.10 L119.70,305.33 L120.25,304.64 L120.80,306.64 L121.35,307.52 L121.90,306.88 L122.45,307.97 L123.00,308.40 L123.55,307.77 L124.10,309.26 L124.65,309.81 L125.20,309.68 L125.75,309.91 L126.30,310.63 L126.85,310.00 L127.40,311.03 L127.95,311.77 L128.50,311.16 L129.05,312.37 L129.60,312.10 L130.15,311.72 L130.70,312.77 L131.25,312.69 L131.80,313.44 L132.35,313.12 L132.90,314.21 L133.45,313.76 L134.00,314.41 L134.55,314.28 L135.10,314.60 L135.65,315.38 L136.20,315.23 L136.75,315.22 L137.30,315.12 L137.85,316.20 L138.40,316.26 L138.95,316.12 L139.50,316.56 L140.05,316.36 L140.60,316.61 L141.15,316.89 L141.70,317.49 L142.25,317.66 L142.80,317.49 L143.35,318.15 L143.90,318.31 L144.45,318.23 L145.00,318.60 L145.55,318.24 L146.10,318.35 L146.65,318.59 L147.20,318.48 L147.75,318.81 L148.30,318.23 L148.85,319.17 L149.40,318.55 L149.95,318.84 L150.50,318.56 L151.05,319.28 L151.60,319.59 L152.15,319.63 L152.70,319.65 L153.25,319.01 L153.80,319.35 L154.35,319.55 L154.90,319.50 L155.45,320.23 L156.00,320.03 L156.55,320.04 L157.10,320.27 L157.65,319.90 L158.20,319.97 L158.75,320.04 L159.30,320.52 L159.85,320.54 L160.40,320.69 L160.95,320.92 L161.50,320.30 L162.05,320.65 L162.60,320.96 L163.15,320.63 L163.70,320.96 L164.25,321.49 L164.80,321.58 L165.35,321.63 L165.90,321.39 L166.45,321.37 L167.00,321.79 L167.55,321.42 L168.10,321.67 L168.65,322.00 L169.20,321.56 L169.75,321.53 L170.30,321.74 L170.85,321.95 L171.40,321.96 L171.95,321.91 L172.50,322.06 L173.05,321.51 L173.60,321.77 L174.15,322.11 L174.70,321.86 L175.25,321.80 L175.80,321.90 L176.35,322.03 L176.90,322.29 L177.45,322.12 L178.00,322.52 L178.55,322.97 L179.10,322.53 L179.65,322.97 L180.20,322.75 L180.75,322.42 L181.30,322.70 L181.85,322.55 L182.40,323.06 L182.95,322.58 L183.50,323.28 L184.05,323.12 L184.60,322.46 L185.15,323.24 L185.70,323.48 L186.25,322.90 L186.80,323.40 L187.35,322.69 L187.90,323.26 L188.45,322.76 L189.00,323.33 L189.55,322.73 L190.10,322.51 L190.65,323.30 L191.20,323.80 L191.75,323.04 L192.30,323.42 L192.85,323.23 L193.40,323.11 L193.95,323.36 L194.50,323.63 L195.05,322.87 L195.60,323.35 L196.15,323.29" fill="none" stroke="#e62d3e" stroke-width="1.1" stroke-linejoin="round"/>
<rect x="30.2" y="191.0" width="166.80" height="133.30" fill="none" stroke="#141414" stroke-width="1.3"/>
<line x1="30.20" y1="191.00" x2="30.20" y2="324.30" stroke="#555" stroke-width="1.3" />
<line x1="27.40" y1="324.30" x2="30.20" y2="324.30" stroke="#222" stroke-width="1" />
<text stroke="#231f20" stroke-width="0.28" x="25.00" y="328.00" font-size="10.5" font-weight="bold" font-style="normal" text-anchor="end" fill="#231f20" >0</text>
<line x1="27.40" y1="279.70" x2="30.20" y2="279.70" stroke="#222" stroke-width="1" />
<text stroke="#231f20" stroke-width="0.28" x="25.00" y="283.40" font-size="10.5" font-weight="bold" font-style="normal" text-anchor="end" fill="#231f20" >1</text>
<line x1="27.40" y1="235.10" x2="30.20" y2="235.10" stroke="#222" stroke-width="1" />
<text stroke="#231f20" stroke-width="0.28" x="25.00" y="238.80" font-size="10.5" font-weight="bold" font-style="normal" text-anchor="end" fill="#231f20" >2</text>
<line x1="27.40" y1="190.50" x2="30.20" y2="190.50" stroke="#222" stroke-width="1" />
<text stroke="#231f20" stroke-width="0.28" x="25.00" y="194.20" font-size="10.5" font-weight="bold" font-style="normal" text-anchor="end" fill="#231f20" >3</text>
<line x1="30.20" y1="302.00" x2="32.00" y2="302.00" stroke="#222" stroke-width="0.9" />
<line x1="30.20" y1="257.40" x2="32.00" y2="257.40" stroke="#222" stroke-width="0.9" />
<line x1="30.20" y1="212.80" x2="32.00" y2="212.80" stroke="#222" stroke-width="0.9" />
<line x1="30.20" y1="324.30" x2="30.20" y2="326.50" stroke="#222" stroke-width="1" />
<text stroke="#231f20" stroke-width="0.28" x="30.40" y="336.80" font-size="10.5" font-weight="bold" font-style="normal" text-anchor="middle" fill="#231f20" >650</text>
<line x1="67.90" y1="324.30" x2="67.90" y2="326.50" stroke="#222" stroke-width="1" />
<text stroke="#231f20" stroke-width="0.28" x="68.10" y="336.80" font-size="10.5" font-weight="bold" font-style="normal" text-anchor="middle" fill="#231f20" >700</text>
<line x1="105.60" y1="324.30" x2="105.60" y2="326.50" stroke="#222" stroke-width="1" />
<text stroke="#231f20" stroke-width="0.28" x="105.80" y="336.80" font-size="10.5" font-weight="bold" font-style="normal" text-anchor="middle" fill="#231f20" >750</text>
<line x1="143.30" y1="324.30" x2="143.30" y2="326.50" stroke="#222" stroke-width="1" />
<text stroke="#231f20" stroke-width="0.28" x="143.50" y="336.80" font-size="10.5" font-weight="bold" font-style="normal" text-anchor="middle" fill="#231f20" >800</text>
<line x1="181.00" y1="324.30" x2="181.00" y2="326.50" stroke="#222" stroke-width="1" />
<text stroke="#231f20" stroke-width="0.28" x="181.20" y="336.80" font-size="10.5" font-weight="bold" font-style="normal" text-anchor="middle" fill="#231f20" >850</text>
<line x1="49.05" y1="324.30" x2="49.05" y2="325.90" stroke="#222" stroke-width="0.9" />
<line x1="86.75" y1="324.30" x2="86.75" y2="325.90" stroke="#222" stroke-width="0.9" />
<line x1="124.45" y1="324.30" x2="124.45" y2="325.90" stroke="#222" stroke-width="0.9" />
<line x1="162.15" y1="324.30" x2="162.15" y2="325.90" stroke="#222" stroke-width="0.9" />
<text stroke="#231f20" stroke-width="0.28" x="109.00" y="352.60" font-size="10.9" font-weight="bold" font-style="normal" text-anchor="middle" fill="#231f20" >Wavelength (nm)</text>
<text stroke="#231f20" stroke-width="0.28" transform="translate(13.2,257.9) rotate(-90)" font-size="11.3" font-weight="bold" text-anchor="middle" fill="#231f20">Intensity (10<tspan font-size="6.5" dy="-3.8">15</tspan><tspan dy="3.8"> counts)</tspan></text>
<line x1="110.50" y1="201.00" x2="125.00" y2="201.00" stroke="#4a9ad8" stroke-width="1.1" />
<line x1="110.90" y1="214.80" x2="125.00" y2="214.80" stroke="#e8404e" stroke-width="1.1" />
<text stroke="#231f20" stroke-width="0.28" x="126.4" y="204.3" font-size="9" font-weight="bold" fill="#231f20">PVK/C<tspan font-size="6.3" dy="1.7">60</tspan></text>
<text stroke="#231f20" stroke-width="0.28" x="126.4" y="218.3" font-size="9" font-weight="bold" fill="#231f20">PVK+TPPC/C<tspan font-size="6.3" dy="1.7">60</tspan></text>
<text stroke="#231f20" stroke-width="0.28" x="212.60" y="193.80" font-size="14.5" font-weight="bold" font-style="normal" text-anchor="start" fill="#231f20" >e</text>
<path d="M266.70,324.40a1.55,1.55 0 1,0 3.1,0a1.55,1.55 0 1,0 -3.1,0M270.01,324.40a1.55,1.55 0 1,0 3.1,0a1.55,1.55 0 1,0 -3.1,0M270.56,324.40a1.55,1.55 0 1,0 3.1,0a1.55,1.55 0 1,0 -3.1,0M275.52,324.40a1.55,1.55 0 1,0 3.1,0a1.55,1.55 0 1,0 -3.1,0M275.80,293.66a1.55,1.55 0 1,0 3.1,0a1.55,1.55 0 1,0 -3.1,0M276.07,281.77a1.55,1.55 0 1,0 3.1,0a1.55,1.55 0 1,0 -3.1,0M276.35,281.77a1.55,1.55 0 1,0 3.1,0a1.55,1.55 0 1,0 -3.1,0M276.62,271.37a1.55,1.55 0 1,0 3.1,0a1.55,1.55 0 1,0 -3.1,0M276.90,256.29a1.55,1.55 0 1,0 3.1,0a1.55,1.55 0 1,0 -3.1,0M277.17,241.44a1.55,1.55 0 1,0 3.1,0a1.55,1.55 0 1,0 -3.1,0M277.45,232.11a1.55,1.55 0 1,0 3.1,0a1.55,1.55 0 1,0 -3.1,0M277.72,223.76a1.55,1.55 0 1,0 3.1,0a1.55,1.55 0 1,0 -3.1,0M278.00,210.74a1.55,1.55 0 1,0 3.1,0a1.55,1.55 0 1,0 -3.1,0M278.28,210.16a1.55,1.55 0 1,0 3.1,0a1.55,1.55 0 1,0 -3.1,0M278.55,204.79a1.55,1.55 0 1,0 3.1,0a1.55,1.55 0 1,0 -3.1,0M278.83,205.00a1.55,1.55 0 1,0 3.1,0a1.55,1.55 0 1,0 -3.1,0M279.10,206.32a1.55,1.55 0 1,0 3.1,0a1.55,1.55 0 1,0 -3.1,0M279.38,209.33a1.55,1.55 0 1,0 3.1,0a1.55,1.55 0 1,0 -3.1,0M279.65,212.12a1.55,1.55 0 1,0 3.1,0a1.55,1.55 0 1,0 -3.1,0M279.93,211.37a1.55,1.55 0 1,0 3.1,0a1.55,1.55 0 1,0 -3.1,0M280.20,214.13a1.55,1.55 0 1,0 3.1,0a1.55,1.55 0 1,0 -3.1,0M280.48,217.32a1.55,1.55 0 1,0 3.1,0a1.55,1.55 0 1,0 -3.1,0M280.75,217.62a1.55,1.55 0 1,0 3.1,0a1.55,1.55 0 1,0 -3.1,0M281.03,219.00a1.55,1.55 0 1,0 3.1,0a1.55,1.55 0 1,0 -3.1,0M281.31,220.30a1.55,1.55 0 1,0 3.1,0a1.55,1.55 0 1,0 -3.1,0M281.58,220.90a1.55,1.55 0 1,0 3.1,0a1.55,1.55 0 1,0 -3.1,0M281.86,223.96a1.55,1.55 0 1,0 3.1,0a1.55,1.55 0 1,0 -3.1,0M282.13,228.75a1.55,1.55 0 1,0 3.1,0a1.55,1.55 0 1,0 -3.1,0M282.41,227.19a1.55,1.55 0 1,0 3.1,0a1.55,1.55 0 1,0 -3.1,0M282.68,228.55a1.55,1.55 0 1,0 3.1,0a1.55,1.55 0 1,0 -3.1,0M282.96,229.61a1.55,1.55 0 1,0 3.1,0a1.55,1.55 0 1,0 -3.1,0M283.23,236.71a1.55,1.55 0 1,0 3.1,0a1.55,1.55 0 1,0 -3.1,0M283.51,236.10a1.55,1.55 0 1,0 3.1,0a1.55,1.55 0 1,0 -3.1,0M283.79,239.14a1.55,1.55 0 1,0 3.1,0a1.55,1.55 0 1,0 -3.1,0M284.06,238.10a1.55,1.55 0 1,0 3.1,0a1.55,1.55 0 1,0 -3.1,0M284.34,241.17a1.55,1.55 0 1,0 3.1,0a1.55,1.55 0 1,0 -3.1,0M284.61,238.91a1.55,1.55 0 1,0 3.1,0a1.55,1.55 0 1,0 -3.1,0M284.89,240.64a1.55,1.55 0 1,0 3.1,0a1.55,1.55 0 1,0 -3.1,0M285.16,240.25a1.55,1.55 0 1,0 3.1,0a1.55,1.55 0 1,0 -3.1,0M285.44,245.23a1.55,1.55 0 1,0 3.1,0a1.55,1.55 0 1,0 -3.1,0M285.71,244.73a1.55,1.55 0 1,0 3.1,0a1.55,1.55 0 1,0 -3.1,0M285.99,243.00a1.55,1.55 0 1,0 3.1,0a1.55,1.55 0 1,0 -3.1,0M286.26,252.53a1.55,1.55 0 1,0 3.1,0a1.55,1.55 0 1,0 -3.1,0M286.54,245.92a1.55,1.55 0 1,0 3.1,0a1.55,1.55 0 1,0 -3.1,0M286.82,244.24a1.55,1.55 0 1,0 3.1,0a1.55,1.55 0 1,0 -3.1,0M287.09,248.39a1.55,1.55 0 1,0 3.1,0a1.55,1.55 0 1,0 -3.1,0M287.37,250.11a1.55,1.55 0 1,0 3.1,0a1.55,1.55 0 1,0 -3.1,0M287.64,251.52a1.55,1.55 0 1,0 3.1,0a1.55,1.55 0 1,0 -3.1,0M287.92,252.79a1.55,1.55 0 1,0 3.1,0a1.55,1.55 0 1,0 -3.1,0M288.19,247.79a1.55,1.55 0 1,0 3.1,0a1.55,1.55 0 1,0 -3.1,0M288.47,251.52a1.55,1.55 0 1,0 3.1,0a1.55,1.55 0 1,0 -3.1,0M288.74,253.60a1.55,1.55 0 1,0 3.1,0a1.55,1.55 0 1,0 -3.1,0M289.02,252.79a1.55,1.55 0 1,0 3.1,0a1.55,1.55 0 1,0 -3.1,0M289.30,254.74a1.55,1.55 0 1,0 3.1,0a1.55,1.55 0 1,0 -3.1,0M289.57,254.45a1.55,1.55 0 1,0 3.1,0a1.55,1.55 0 1,0 -3.1,0M289.85,252.27a1.55,1.55 0 1,0 3.1,0a1.55,1.55 0 1,0 -3.1,0M290.12,255.04a1.55,1.55 0 1,0 3.1,0a1.55,1.55 0 1,0 -3.1,0M290.40,255.97a1.55,1.55 0 1,0 3.1,0a1.55,1.55 0 1,0 -3.1,0M290.67,255.04a1.55,1.55 0 1,0 3.1,0a1.55,1.55 0 1,0 -3.1,0M290.95,256.62a1.55,1.55 0 1,0 3.1,0a1.55,1.55 0 1,0 -3.1,0M291.22,264.42a1.55,1.55 0 1,0 3.1,0a1.55,1.55 0 1,0 -3.1,0M291.50,255.04a1.55,1.55 0 1,0 3.1,0a1.55,1.55 0 1,0 -3.1,0M291.77,259.48a1.55,1.55 0 1,0 3.1,0a1.55,1.55 0 1,0 -3.1,0M292.05,254.74a1.55,1.55 0 1,0 3.1,0a1.55,1.55 0 1,0 -3.1,0M292.33,256.95a1.55,1.55 0 1,0 3.1,0a1.55,1.55 0 1,0 -3.1,0M292.60,258.72a1.55,1.55 0 1,0 3.1,0a1.55,1.55 0 1,0 -3.1,0M292.88,262.46a1.55,1.55 0 1,0 3.1,0a1.55,1.55 0 1,0 -3.1,0M293.15,264.95a1.55,1.55 0 1,0 3.1,0a1.55,1.55 0 1,0 -3.1,0M293.43,267.86a1.55,1.55 0 1,0 3.1,0a1.55,1.55 0 1,0 -3.1,0M293.70,262.46a1.55,1.55 0 1,0 3.1,0a1.55,1.55 0 1,0 -3.1,0M293.98,267.24a1.55,1.55 0 1,0 3.1,0a1.55,1.55 0 1,0 -3.1,0M294.25,266.05a1.55,1.55 0 1,0 3.1,0a1.55,1.55 0 1,0 -3.1,0M294.53,267.86a1.55,1.55 0 1,0 3.1,0a1.55,1.55 0 1,0 -3.1,0M294.81,266.64a1.55,1.55 0 1,0 3.1,0a1.55,1.55 0 1,0 -3.1,0M295.08,264.95a1.55,1.55 0 1,0 3.1,0a1.55,1.55 0 1,0 -3.1,0M295.36,269.18a1.55,1.55 0 1,0 3.1,0a1.55,1.55 0 1,0 -3.1,0M295.63,269.18a1.55,1.55 0 1,0 3.1,0a1.55,1.55 0 1,0 -3.1,0M295.91,263.41a1.55,1.55 0 1,0 3.1,0a1.55,1.55 0 1,0 -3.1,0M296.18,270.61a1.55,1.55 0 1,0 3.1,0a1.55,1.55 0 1,0 -3.1,0M296.46,265.49a1.55,1.55 0 1,0 3.1,0a1.55,1.55 0 1,0 -3.1,0M296.73,280.40a1.55,1.55 0 1,0 3.1,0a1.55,1.55 0 1,0 -3.1,0M297.01,268.51a1.55,1.55 0 1,0 3.1,0a1.55,1.55 0 1,0 -3.1,0M297.28,275.80a1.55,1.55 0 1,0 3.1,0a1.55,1.55 0 1,0 -3.1,0M297.56,275.80a1.55,1.55 0 1,0 3.1,0a1.55,1.55 0 1,0 -3.1,0M297.84,269.18a1.55,1.55 0 1,0 3.1,0a1.55,1.55 0 1,0 -3.1,0M298.11,267.24a1.55,1.55 0 1,0 3.1,0a1.55,1.55 0 1,0 -3.1,0M298.39,270.61a1.55,1.55 0 1,0 3.1,0a1.55,1.55 0 1,0 -3.1,0M298.66,270.61a1.55,1.55 0 1,0 3.1,0a1.55,1.55 0 1,0 -3.1,0M298.94,281.77a1.55,1.55 0 1,0 3.1,0a1.55,1.55 0 1,0 -3.1,0M299.21,267.24a1.55,1.55 0 1,0 3.1,0a1.55,1.55 0 1,0 -3.1,0M299.49,279.13a1.55,1.55 0 1,0 3.1,0a1.55,1.55 0 1,0 -3.1,0M299.76,274.82a1.55,1.55 0 1,0 3.1,0a1.55,1.55 0 1,0 -3.1,0M300.04,274.82a1.55,1.55 0 1,0 3.1,0a1.55,1.55 0 1,0 -3.1,0M300.32,274.82a1.55,1.55 0 1,0 3.1,0a1.55,1.55 0 1,0 -3.1,0M300.59,272.17a1.55,1.55 0 1,0 3.1,0a1.55,1.55 0 1,0 -3.1,0M300.87,276.84a1.55,1.55 0 1,0 3.1,0a1.55,1.55 0 1,0 -3.1,0M301.14,279.13a1.55,1.55 0 1,0 3.1,0a1.55,1.55 0 1,0 -3.1,0M301.42,277.94a1.55,1.55 0 1,0 3.1,0a1.55,1.55 0 1,0 -3.1,0M301.69,275.80a1.55,1.55 0 1,0 3.1,0a1.55,1.55 0 1,0 -3.1,0M301.97,271.37a1.55,1.55 0 1,0 3.1,0a1.55,1.55 0 1,0 -3.1,0M302.24,281.77a1.55,1.55 0 1,0 3.1,0a1.55,1.55 0 1,0 -3.1,0M302.52,276.84a1.55,1.55 0 1,0 3.1,0a1.55,1.55 0 1,0 -3.1,0M302.80,273.01a1.55,1.55 0 1,0 3.1,0a1.55,1.55 0 1,0 -3.1,0M303.07,271.37a1.55,1.55 0 1,0 3.1,0a1.55,1.55 0 1,0 -3.1,0M303.35,283.26a1.55,1.55 0 1,0 3.1,0a1.55,1.55 0 1,0 -3.1,0M303.62,283.26a1.55,1.55 0 1,0 3.1,0a1.55,1.55 0 1,0 -3.1,0M303.90,275.80a1.55,1.55 0 1,0 3.1,0a1.55,1.55 0 1,0 -3.1,0M304.17,280.40a1.55,1.55 0 1,0 3.1,0a1.55,1.55 0 1,0 -3.1,0M304.45,280.40a1.55,1.55 0 1,0 3.1,0a1.55,1.55 0 1,0 -3.1,0M304.72,276.84a1.55,1.55 0 1,0 3.1,0a1.55,1.55 0 1,0 -3.1,0M305.00,283.26a1.55,1.55 0 1,0 3.1,0a1.55,1.55 0 1,0 -3.1,0M305.27,277.94a1.55,1.55 0 1,0 3.1,0a1.55,1.55 0 1,0 -3.1,0M305.55,276.84a1.55,1.55 0 1,0 3.1,0a1.55,1.55 0 1,0 -3.1,0M305.83,275.80a1.55,1.55 0 1,0 3.1,0a1.55,1.55 0 1,0 -3.1,0M306.10,273.01a1.55,1.55 0 1,0 3.1,0a1.55,1.55 0 1,0 -3.1,0M306.38,276.84a1.55,1.55 0 1,0 3.1,0a1.55,1.55 0 1,0 -3.1,0M306.65,291.02a1.55,1.55 0 1,0 3.1,0a1.55,1.55 0 1,0 -3.1,0M306.93,269.88a1.55,1.55 0 1,0 3.1,0a1.55,1.55 0 1,0 -3.1,0M307.20,283.26a1.55,1.55 0 1,0 3.1,0a1.55,1.55 0 1,0 -3.1,0M307.48,296.79a1.55,1.55 0 1,0 3.1,0a1.55,1.55 0 1,0 -3.1,0M307.75,271.37a1.55,1.55 0 1,0 3.1,0a1.55,1.55 0 1,0 -3.1,0M308.03,284.90a1.55,1.55 0 1,0 3.1,0a1.55,1.55 0 1,0 -3.1,0M308.31,283.26a1.55,1.55 0 1,0 3.1,0a1.55,1.55 0 1,0 -3.1,0M308.58,293.66a1.55,1.55 0 1,0 3.1,0a1.55,1.55 0 1,0 -3.1,0M308.86,277.94a1.55,1.55 0 1,0 3.1,0a1.55,1.55 0 1,0 -3.1,0M309.13,275.80a1.55,1.55 0 1,0 3.1,0a1.55,1.55 0 1,0 -3.1,0M309.41,288.73a1.55,1.55 0 1,0 3.1,0a1.55,1.55 0 1,0 -3.1,0M309.68,280.40a1.55,1.55 0 1,0 3.1,0a1.55,1.55 0 1,0 -3.1,0M309.96,284.90a1.55,1.55 0 1,0 3.1,0a1.55,1.55 0 1,0 -3.1,0M310.23,288.73a1.55,1.55 0 1,0 3.1,0a1.55,1.55 0 1,0 -3.1,0M310.51,293.66a1.55,1.55 0 1,0 3.1,0a1.55,1.55 0 1,0 -3.1,0M310.78,273.89a1.55,1.55 0 1,0 3.1,0a1.55,1.55 0 1,0 -3.1,0M311.06,288.73a1.55,1.55 0 1,0 3.1,0a1.55,1.55 0 1,0 -3.1,0M311.34,280.40a1.55,1.55 0 1,0 3.1,0a1.55,1.55 0 1,0 -3.1,0M311.61,284.90a1.55,1.55 0 1,0 3.1,0a1.55,1.55 0 1,0 -3.1,0M311.89,296.79a1.55,1.55 0 1,0 3.1,0a1.55,1.55 0 1,0 -3.1,0M312.16,293.66a1.55,1.55 0 1,0 3.1,0a1.55,1.55 0 1,0 -3.1,0M312.44,281.77a1.55,1.55 0 1,0 3.1,0a1.55,1.55 0 1,0 -3.1,0M312.71,286.71a1.55,1.55 0 1,0 3.1,0a1.55,1.55 0 1,0 -3.1,0M312.99,277.94a1.55,1.55 0 1,0 3.1,0a1.55,1.55 0 1,0 -3.1,0M313.26,284.90a1.55,1.55 0 1,0 3.1,0a1.55,1.55 0 1,0 -3.1,0M313.54,284.90a1.55,1.55 0 1,0 3.1,0a1.55,1.55 0 1,0 -3.1,0M313.81,291.02a1.55,1.55 0 1,0 3.1,0a1.55,1.55 0 1,0 -3.1,0M314.09,293.66a1.55,1.55 0 1,0 3.1,0a1.55,1.55 0 1,0 -3.1,0M314.37,279.13a1.55,1.55 0 1,0 3.1,0a1.55,1.55 0 1,0 -3.1,0M314.64,286.71a1.55,1.55 0 1,0 3.1,0a1.55,1.55 0 1,0 -3.1,0M314.92,284.90a1.55,1.55 0 1,0 3.1,0a1.55,1.55 0 1,0 -3.1,0M315.19,283.26a1.55,1.55 0 1,0 3.1,0a1.55,1.55 0 1,0 -3.1,0M315.47,293.66a1.55,1.55 0 1,0 3.1,0a1.55,1.55 0 1,0 -3.1,0M315.74,288.73a1.55,1.55 0 1,0 3.1,0a1.55,1.55 0 1,0 -3.1,0M316.02,283.26a1.55,1.55 0 1,0 3.1,0a1.55,1.55 0 1,0 -3.1,0M316.29,284.90a1.55,1.55 0 1,0 3.1,0a1.55,1.55 0 1,0 -3.1,0M316.57,284.90a1.55,1.55 0 1,0 3.1,0a1.55,1.55 0 1,0 -3.1,0M316.85,277.94a1.55,1.55 0 1,0 3.1,0a1.55,1.55 0 1,0 -3.1,0M317.12,293.66a1.55,1.55 0 1,0 3.1,0a1.55,1.55 0 1,0 -3.1,0M317.40,291.02a1.55,1.55 0 1,0 3.1,0a1.55,1.55 0 1,0 -3.1,0M317.67,283.26a1.55,1.55 0 1,0 3.1,0a1.55,1.55 0 1,0 -3.1,0M317.95,284.90a1.55,1.55 0 1,0 3.1,0a1.55,1.55 0 1,0 -3.1,0M318.22,283.26a1.55,1.55 0 1,0 3.1,0a1.55,1.55 0 1,0 -3.1,0M318.50,284.90a1.55,1.55 0 1,0 3.1,0a1.55,1.55 0 1,0 -3.1,0M318.77,284.90a1.55,1.55 0 1,0 3.1,0a1.55,1.55 0 1,0 -3.1,0M319.05,296.79a1.55,1.55 0 1,0 3.1,0a1.55,1.55 0 1,0 -3.1,0M319.32,291.02a1.55,1.55 0 1,0 3.1,0a1.55,1.55 0 1,0 -3.1,0M319.60,291.02a1.55,1.55 0 1,0 3.1,0a1.55,1.55 0 1,0 -3.1,0M319.88,293.66a1.55,1.55 0 1,0 3.1,0a1.55,1.55 0 1,0 -3.1,0M320.15,291.02a1.55,1.55 0 1,0 3.1,0a1.55,1.55 0 1,0 -3.1,0M320.43,291.02a1.55,1.55 0 1,0 3.1,0a1.55,1.55 0 1,0 -3.1,0M320.70,293.66a1.55,1.55 0 1,0 3.1,0a1.55,1.55 0 1,0 -3.1,0M320.98,293.66a1.55,1.55 0 1,0 3.1,0a1.55,1.55 0 1,0 -3.1,0M321.25,296.79a1.55,1.55 0 1,0 3.1,0a1.55,1.55 0 1,0 -3.1,0M321.53,291.02a1.55,1.55 0 1,0 3.1,0a1.55,1.55 0 1,0 -3.1,0M321.80,291.02a1.55,1.55 0 1,0 3.1,0a1.55,1.55 0 1,0 -3.1,0M322.08,296.79a1.55,1.55 0 1,0 3.1,0a1.55,1.55 0 1,0 -3.1,0M322.36,288.73a1.55,1.55 0 1,0 3.1,0a1.55,1.55 0 1,0 -3.1,0M322.63,300.62a1.55,1.55 0 1,0 3.1,0a1.55,1.55 0 1,0 -3.1,0M322.91,286.71a1.55,1.55 0 1,0 3.1,0a1.55,1.55 0 1,0 -3.1,0M323.18,291.02a1.55,1.55 0 1,0 3.1,0a1.55,1.55 0 1,0 -3.1,0M323.46,283.26a1.55,1.55 0 1,0 3.1,0a1.55,1.55 0 1,0 -3.1,0M323.73,300.62a1.55,1.55 0 1,0 3.1,0a1.55,1.55 0 1,0 -3.1,0M324.01,296.79a1.55,1.55 0 1,0 3.1,0a1.55,1.55 0 1,0 -3.1,0M324.28,291.02a1.55,1.55 0 1,0 3.1,0a1.55,1.55 0 1,0 -3.1,0M324.56,305.55a1.55,1.55 0 1,0 3.1,0a1.55,1.55 0 1,0 -3.1,0M324.83,291.02a1.55,1.55 0 1,0 3.1,0a1.55,1.55 0 1,0 -3.1,0M325.11,284.90a1.55,1.55 0 1,0 3.1,0a1.55,1.55 0 1,0 -3.1,0M325.39,286.71a1.55,1.55 0 1,0 3.1,0a1.55,1.55 0 1,0 -3.1,0M325.66,288.73a1.55,1.55 0 1,0 3.1,0a1.55,1.55 0 1,0 -3.1,0M325.94,293.66a1.55,1.55 0 1,0 3.1,0a1.55,1.55 0 1,0 -3.1,0M326.21,291.02a1.55,1.55 0 1,0 3.1,0a1.55,1.55 0 1,0 -3.1,0M326.49,300.62a1.55,1.55 0 1,0 3.1,0a1.55,1.55 0 1,0 -3.1,0M326.76,281.77a1.55,1.55 0 1,0 3.1,0a1.55,1.55 0 1,0 -3.1,0M327.04,291.02a1.55,1.55 0 1,0 3.1,0a1.55,1.55 0 1,0 -3.1,0M327.31,291.02a1.55,1.55 0 1,0 3.1,0a1.55,1.55 0 1,0 -3.1,0M327.59,286.71a1.55,1.55 0 1,0 3.1,0a1.55,1.55 0 1,0 -3.1,0M327.87,291.02a1.55,1.55 0 1,0 3.1,0a1.55,1.55 0 1,0 -3.1,0M328.14,286.71a1.55,1.55 0 1,0 3.1,0a1.55,1.55 0 1,0 -3.1,0M328.42,291.02a1.55,1.55 0 1,0 3.1,0a1.55,1.55 0 1,0 -3.1,0M328.69,284.90a1.55,1.55 0 1,0 3.1,0a1.55,1.55 0 1,0 -3.1,0M328.97,293.66a1.55,1.55 0 1,0 3.1,0a1.55,1.55 0 1,0 -3.1,0M329.24,305.55a1.55,1.55 0 1,0 3.1,0a1.55,1.55 0 1,0 -3.1,0M329.52,291.02a1.55,1.55 0 1,0 3.1,0a1.55,1.55 0 1,0 -3.1,0M329.79,296.79a1.55,1.55 0 1,0 3.1,0a1.55,1.55 0 1,0 -3.1,0M330.07,296.79a1.55,1.55 0 1,0 3.1,0a1.55,1.55 0 1,0 -3.1,0M330.34,300.62a1.55,1.55 0 1,0 3.1,0a1.55,1.55 0 1,0 -3.1,0M330.62,284.90a1.55,1.55 0 1,0 3.1,0a1.55,1.55 0 1,0 -3.1,0M330.90,288.73a1.55,1.55 0 1,0 3.1,0a1.55,1.55 0 1,0 -3.1,0M331.17,288.73a1.55,1.55 0 1,0 3.1,0a1.55,1.55 0 1,0 -3.1,0M331.45,284.90a1.55,1.55 0 1,0 3.1,0a1.55,1.55 0 1,0 -3.1,0M331.72,286.71a1.55,1.55 0 1,0 3.1,0a1.55,1.55 0 1,0 -3.1,0M332.00,293.66a1.55,1.55 0 1,0 3.1,0a1.55,1.55 0 1,0 -3.1,0M332.27,293.66a1.55,1.55 0 1,0 3.1,0a1.55,1.55 0 1,0 -3.1,0M332.55,300.62a1.55,1.55 0 1,0 3.1,0a1.55,1.55 0 1,0 -3.1,0M332.82,293.66a1.55,1.55 0 1,0 3.1,0a1.55,1.55 0 1,0 -3.1,0M333.10,312.51a1.55,1.55 0 1,0 3.1,0a1.55,1.55 0 1,0 -3.1,0M333.38,324.40a1.55,1.55 0 1,0 3.1,0a1.55,1.55 0 1,0 -3.1,0M333.65,286.71a1.55,1.55 0 1,0 3.1,0a1.55,1.55 0 1,0 -3.1,0M333.93,288.73a1.55,1.55 0 1,0 3.1,0a1.55,1.55 0 1,0 -3.1,0M334.20,288.73a1.55,1.55 0 1,0 3.1,0a1.55,1.55 0 1,0 -3.1,0M334.48,300.62a1.55,1.55 0 1,0 3.1,0a1.55,1.55 0 1,0 -3.1,0M334.75,296.79a1.55,1.55 0 1,0 3.1,0a1.55,1.55 0 1,0 -3.1,0M335.03,288.73a1.55,1.55 0 1,0 3.1,0a1.55,1.55 0 1,0 -3.1,0M335.30,291.02a1.55,1.55 0 1,0 3.1,0a1.55,1.55 0 1,0 -3.1,0M335.58,288.73a1.55,1.55 0 1,0 3.1,0a1.55,1.55 0 1,0 -3.1,0M335.85,288.73a1.55,1.55 0 1,0 3.1,0a1.55,1.55 0 1,0 -3.1,0M336.13,293.66a1.55,1.55 0 1,0 3.1,0a1.55,1.55 0 1,0 -3.1,0M336.41,293.66a1.55,1.55 0 1,0 3.1,0a1.55,1.55 0 1,0 -3.1,0M336.68,312.51a1.55,1.55 0 1,0 3.1,0a1.55,1.55 0 1,0 -3.1,0M336.96,291.02a1.55,1.55 0 1,0 3.1,0a1.55,1.55 0 1,0 -3.1,0M337.23,288.73a1.55,1.55 0 1,0 3.1,0a1.55,1.55 0 1,0 -3.1,0M337.51,288.73a1.55,1.55 0 1,0 3.1,0a1.55,1.55 0 1,0 -3.1,0M337.78,293.66a1.55,1.55 0 1,0 3.1,0a1.55,1.55 0 1,0 -3.1,0M338.06,293.66a1.55,1.55 0 1,0 3.1,0a1.55,1.55 0 1,0 -3.1,0M338.33,300.62a1.55,1.55 0 1,0 3.1,0a1.55,1.55 0 1,0 -3.1,0M338.61,300.62a1.55,1.55 0 1,0 3.1,0a1.55,1.55 0 1,0 -3.1,0M338.89,296.79a1.55,1.55 0 1,0 3.1,0a1.55,1.55 0 1,0 -3.1,0M339.16,300.62a1.55,1.55 0 1,0 3.1,0a1.55,1.55 0 1,0 -3.1,0M339.44,293.66a1.55,1.55 0 1,0 3.1,0a1.55,1.55 0 1,0 -3.1,0M339.71,286.71a1.55,1.55 0 1,0 3.1,0a1.55,1.55 0 1,0 -3.1,0M339.99,293.66a1.55,1.55 0 1,0 3.1,0a1.55,1.55 0 1,0 -3.1,0M340.26,312.51a1.55,1.55 0 1,0 3.1,0a1.55,1.55 0 1,0 -3.1,0M340.54,296.79a1.55,1.55 0 1,0 3.1,0a1.55,1.55 0 1,0 -3.1,0M340.81,286.71a1.55,1.55 0 1,0 3.1,0a1.55,1.55 0 1,0 -3.1,0M341.09,312.51a1.55,1.55 0 1,0 3.1,0a1.55,1.55 0 1,0 -3.1,0M341.36,300.62a1.55,1.55 0 1,0 3.1,0a1.55,1.55 0 1,0 -3.1,0M341.64,291.02a1.55,1.55 0 1,0 3.1,0a1.55,1.55 0 1,0 -3.1,0M341.92,300.62a1.55,1.55 0 1,0 3.1,0a1.55,1.55 0 1,0 -3.1,0M342.19,305.55a1.55,1.55 0 1,0 3.1,0a1.55,1.55 0 1,0 -3.1,0M342.47,296.79a1.55,1.55 0 1,0 3.1,0a1.55,1.55 0 1,0 -3.1,0M342.74,305.55a1.55,1.55 0 1,0 3.1,0a1.55,1.55 0 1,0 -3.1,0M343.02,286.71a1.55,1.55 0 1,0 3.1,0a1.55,1.55 0 1,0 -3.1,0M343.29,305.55a1.55,1.55 0 1,0 3.1,0a1.55,1.55 0 1,0 -3.1,0M343.57,312.51a1.55,1.55 0 1,0 3.1,0a1.55,1.55 0 1,0 -3.1,0M343.84,291.02a1.55,1.55 0 1,0 3.1,0a1.55,1.55 0 1,0 -3.1,0M344.12,296.79a1.55,1.55 0 1,0 3.1,0a1.55,1.55 0 1,0 -3.1,0M344.40,293.66a1.55,1.55 0 1,0 3.1,0a1.55,1.55 0 1,0 -3.1,0M344.67,296.79a1.55,1.55 0 1,0 3.1,0a1.55,1.55 0 1,0 -3.1,0M344.95,291.02a1.55,1.55 0 1,0 3.1,0a1.55,1.55 0 1,0 -3.1,0M345.22,305.55a1.55,1.55 0 1,0 3.1,0a1.55,1.55 0 1,0 -3.1,0M345.50,300.62a1.55,1.55 0 1,0 3.1,0a1.55,1.55 0 1,0 -3.1,0M345.77,300.62a1.55,1.55 0 1,0 3.1,0a1.55,1.55 0 1,0 -3.1,0M346.05,300.62a1.55,1.55 0 1,0 3.1,0a1.55,1.55 0 1,0 -3.1,0M346.32,291.02a1.55,1.55 0 1,0 3.1,0a1.55,1.55 0 1,0 -3.1,0M346.60,288.73a1.55,1.55 0 1,0 3.1,0a1.55,1.55 0 1,0 -3.1,0M346.88,305.55a1.55,1.55 0 1,0 3.1,0a1.55,1.55 0 1,0 -3.1,0M347.15,300.62a1.55,1.55 0 1,0 3.1,0a1.55,1.55 0 1,0 -3.1,0M347.43,300.62a1.55,1.55 0 1,0 3.1,0a1.55,1.55 0 1,0 -3.1,0M347.70,291.02a1.55,1.55 0 1,0 3.1,0a1.55,1.55 0 1,0 -3.1,0M347.98,324.40a1.55,1.55 0 1,0 3.1,0a1.55,1.55 0 1,0 -3.1,0M348.25,296.79a1.55,1.55 0 1,0 3.1,0a1.55,1.55 0 1,0 -3.1,0M348.53,296.79a1.55,1.55 0 1,0 3.1,0a1.55,1.55 0 1,0 -3.1,0M348.80,291.02a1.55,1.55 0 1,0 3.1,0a1.55,1.55 0 1,0 -3.1,0M349.08,305.55a1.55,1.55 0 1,0 3.1,0a1.55,1.55 0 1,0 -3.1,0M349.35,300.62a1.55,1.55 0 1,0 3.1,0a1.55,1.55 0 1,0 -3.1,0M349.63,296.79a1.55,1.55 0 1,0 3.1,0a1.55,1.55 0 1,0 -3.1,0M349.91,296.79a1.55,1.55 0 1,0 3.1,0a1.55,1.55 0 1,0 -3.1,0M350.18,296.79a1.55,1.55 0 1,0 3.1,0a1.55,1.55 0 1,0 -3.1,0M350.46,305.55a1.55,1.55 0 1,0 3.1,0a1.55,1.55 0 1,0 -3.1,0M350.73,293.66a1.55,1.55 0 1,0 3.1,0a1.55,1.55 0 1,0 -3.1,0M351.01,324.40a1.55,1.55 0 1,0 3.1,0a1.55,1.55 0 1,0 -3.1,0M351.28,300.62a1.55,1.55 0 1,0 3.1,0a1.55,1.55 0 1,0 -3.1,0M351.56,300.62a1.55,1.55 0 1,0 3.1,0a1.55,1.55 0 1,0 -3.1,0M351.83,305.55a1.55,1.55 0 1,0 3.1,0a1.55,1.55 0 1,0 -3.1,0M352.11,296.79a1.55,1.55 0 1,0 3.1,0a1.55,1.55 0 1,0 -3.1,0M352.38,312.51a1.55,1.55 0 1,0 3.1,0a1.55,1.55 0 1,0 -3.1,0M352.66,300.62a1.55,1.55 0 1,0 3.1,0a1.55,1.55 0 1,0 -3.1,0M352.94,288.73a1.55,1.55 0 1,0 3.1,0a1.55,1.55 0 1,0 -3.1,0M353.21,296.79a1.55,1.55 0 1,0 3.1,0a1.55,1.55 0 1,0 -3.1,0M353.49,324.40a1.55,1.55 0 1,0 3.1,0a1.55,1.55 0 1,0 -3.1,0M353.76,324.40a1.55,1.55 0 1,0 3.1,0a1.55,1.55 0 1,0 -3.1,0M354.04,300.62a1.55,1.55 0 1,0 3.1,0a1.55,1.55 0 1,0 -3.1,0M354.31,300.62a1.55,1.55 0 1,0 3.1,0a1.55,1.55 0 1,0 -3.1,0M354.59,300.62a1.55,1.55 0 1,0 3.1,0a1.55,1.55 0 1,0 -3.1,0M354.86,296.79a1.55,1.55 0 1,0 3.1,0a1.55,1.55 0 1,0 -3.1,0M355.14,312.51a1.55,1.55 0 1,0 3.1,0a1.55,1.55 0 1,0 -3.1,0M355.42,296.79a1.55,1.55 0 1,0 3.1,0a1.55,1.55 0 1,0 -3.1,0M355.69,324.40a1.55,1.55 0 1,0 3.1,0a1.55,1.55 0 1,0 -3.1,0M355.97,300.62a1.55,1.55 0 1,0 3.1,0a1.55,1.55 0 1,0 -3.1,0M356.24,312.51a1.55,1.55 0 1,0 3.1,0a1.55,1.55 0 1,0 -3.1,0M356.52,300.62a1.55,1.55 0 1,0 3.1,0a1.55,1.55 0 1,0 -3.1,0M356.79,305.55a1.55,1.55 0 1,0 3.1,0a1.55,1.55 0 1,0 -3.1,0M357.07,296.79a1.55,1.55 0 1,0 3.1,0a1.55,1.55 0 1,0 -3.1,0M357.34,291.02a1.55,1.55 0 1,0 3.1,0a1.55,1.55 0 1,0 -3.1,0M357.62,296.79a1.55,1.55 0 1,0 3.1,0a1.55,1.55 0 1,0 -3.1,0M357.89,324.40a1.55,1.55 0 1,0 3.1,0a1.55,1.55 0 1,0 -3.1,0M358.17,293.66a1.55,1.55 0 1,0 3.1,0a1.55,1.55 0 1,0 -3.1,0M358.45,305.55a1.55,1.55 0 1,0 3.1,0a1.55,1.55 0 1,0 -3.1,0M358.72,291.02a1.55,1.55 0 1,0 3.1,0a1.55,1.55 0 1,0 -3.1,0M359.00,300.62a1.55,1.55 0 1,0 3.1,0a1.55,1.55 0 1,0 -3.1,0M359.27,300.62a1.55,1.55 0 1,0 3.1,0a1.55,1.55 0 1,0 -3.1,0M359.55,305.55a1.55,1.55 0 1,0 3.1,0a1.55,1.55 0 1,0 -3.1,0M359.82,300.62a1.55,1.55 0 1,0 3.1,0a1.55,1.55 0 1,0 -3.1,0M360.10,305.55a1.55,1.55 0 1,0 3.1,0a1.55,1.55 0 1,0 -3.1,0M360.37,296.79a1.55,1.55 0 1,0 3.1,0a1.55,1.55 0 1,0 -3.1,0M360.65,296.79a1.55,1.55 0 1,0 3.1,0a1.55,1.55 0 1,0 -3.1,0M360.93,300.62a1.55,1.55 0 1,0 3.1,0a1.55,1.55 0 1,0 -3.1,0M361.20,305.55a1.55,1.55 0 1,0 3.1,0a1.55,1.55 0 1,0 -3.1,0M361.48,324.40a1.55,1.55 0 1,0 3.1,0a1.55,1.55 0 1,0 -3.1,0M361.75,296.79a1.55,1.55 0 1,0 3.1,0a1.55,1.55 0 1,0 -3.1,0M362.03,296.79a1.55,1.55 0 1,0 3.1,0a1.55,1.55 0 1,0 -3.1,0M362.30,296.79a1.55,1.55 0 1,0 3.1,0a1.55,1.55 0 1,0 -3.1,0M362.58,300.62a1.55,1.55 0 1,0 3.1,0a1.55,1.55 0 1,0 -3.1,0M362.85,305.55a1.55,1.55 0 1,0 3.1,0a1.55,1.55 0 1,0 -3.1,0M363.40,300.62a1.55,1.55 0 1,0 3.1,0a1.55,1.55 0 1,0 -3.1,0M363.68,296.79a1.55,1.55 0 1,0 3.1,0a1.55,1.55 0 1,0 -3.1,0M363.96,305.55a1.55,1.55 0 1,0 3.1,0a1.55,1.55 0 1,0 -3.1,0M364.51,296.79a1.55,1.55 0 1,0 3.1,0a1.55,1.55 0 1,0 -3.1,0M364.78,291.02a1.55,1.55 0 1,0 3.1,0a1.55,1.55 0 1,0 -3.1,0M365.06,296.79a1.55,1.55 0 1,0 3.1,0a1.55,1.55 0 1,0 -3.1,0M365.33,312.51a1.55,1.55 0 1,0 3.1,0a1.55,1.55 0 1,0 -3.1,0M365.61,312.51a1.55,1.55 0 1,0 3.1,0a1.55,1.55 0 1,0 -3.1,0M365.88,291.02a1.55,1.55 0 1,0 3.1,0a1.55,1.55 0 1,0 -3.1,0M366.16,293.66a1.55,1.55 0 1,0 3.1,0a1.55,1.55 0 1,0 -3.1,0M366.44,305.55a1.55,1.55 0 1,0 3.1,0a1.55,1.55 0 1,0 -3.1,0M366.71,293.66a1.55,1.55 0 1,0 3.1,0a1.55,1.55 0 1,0 -3.1,0M366.99,300.62a1.55,1.55 0 1,0 3.1,0a1.55,1.55 0 1,0 -3.1,0M367.26,312.51a1.55,1.55 0 1,0 3.1,0a1.55,1.55 0 1,0 -3.1,0M367.54,300.62a1.55,1.55 0 1,0 3.1,0a1.55,1.55 0 1,0 -3.1,0M367.81,300.62a1.55,1.55 0 1,0 3.1,0a1.55,1.55 0 1,0 -3.1,0M368.09,312.51a1.55,1.55 0 1,0 3.1,0a1.55,1.55 0 1,0 -3.1,0M368.36,300.62a1.55,1.55 0 1,0 3.1,0a1.55,1.55 0 1,0 -3.1,0M368.64,305.55a1.55,1.55 0 1,0 3.1,0a1.55,1.55 0 1,0 -3.1,0M368.91,312.51a1.55,1.55 0 1,0 3.1,0a1.55,1.55 0 1,0 -3.1,0M369.19,305.55a1.55,1.55 0 1,0 3.1,0a1.55,1.55 0 1,0 -3.1,0M369.47,324.40a1.55,1.55 0 1,0 3.1,0a1.55,1.55 0 1,0 -3.1,0M369.74,288.73a1.55,1.55 0 1,0 3.1,0a1.55,1.55 0 1,0 -3.1,0M370.02,305.55a1.55,1.55 0 1,0 3.1,0a1.55,1.55 0 1,0 -3.1,0M370.29,312.51a1.55,1.55 0 1,0 3.1,0a1.55,1.55 0 1,0 -3.1,0M370.57,305.55a1.55,1.55 0 1,0 3.1,0a1.55,1.55 0 1,0 -3.1,0M370.84,305.55a1.55,1.55 0 1,0 3.1,0a1.55,1.55 0 1,0 -3.1,0M371.12,324.40a1.55,1.55 0 1,0 3.1,0a1.55,1.55 0 1,0 -3.1,0M371.39,296.79a1.55,1.55 0 1,0 3.1,0a1.55,1.55 0 1,0 -3.1,0M371.67,324.40a1.55,1.55 0 1,0 3.1,0a1.55,1.55 0 1,0 -3.1,0M371.95,312.51a1.55,1.55 0 1,0 3.1,0a1.55,1.55 0 1,0 -3.1,0M372.22,312.51a1.55,1.55 0 1,0 3.1,0a1.55,1.55 0 1,0 -3.1,0M372.50,305.55a1.55,1.55 0 1,0 3.1,0a1.55,1.55 0 1,0 -3.1,0M372.77,300.62a1.55,1.55 0 1,0 3.1,0a1.55,1.55 0 1,0 -3.1,0M373.05,312.51a1.55,1.55 0 1,0 3.1,0a1.55,1.55 0 1,0 -3.1,0M373.32,305.55a1.55,1.55 0 1,0 3.1,0a1.55,1.55 0 1,0 -3.1,0M373.60,300.62a1.55,1.55 0 1,0 3.1,0a1.55,1.55 0 1,0 -3.1,0M373.87,312.51a1.55,1.55 0 1,0 3.1,0a1.55,1.55 0 1,0 -3.1,0M374.15,300.62a1.55,1.55 0 1,0 3.1,0a1.55,1.55 0 1,0 -3.1,0M374.43,300.62a1.55,1.55 0 1,0 3.1,0a1.55,1.55 0 1,0 -3.1,0M374.70,300.62a1.55,1.55 0 1,0 3.1,0a1.55,1.55 0 1,0 -3.1,0M374.98,305.55a1.55,1.55 0 1,0 3.1,0a1.55,1.55 0 1,0 -3.1,0M375.25,312.51a1.55,1.55 0 1,0 3.1,0a1.55,1.55 0 1,0 -3.1,0M375.53,312.51a1.55,1.55 0 1,0 3.1,0a1.55,1.55 0 1,0 -3.1,0M375.80,296.79a1.55,1.55 0 1,0 3.1,0a1.55,1.55 0 1,0 -3.1,0M376.08,296.79a1.55,1.55 0 1,0 3.1,0a1.55,1.55 0 1,0 -3.1,0M376.35,324.40a1.55,1.55 0 1,0 3.1,0a1.55,1.55 0 1,0 -3.1,0M376.63,305.55a1.55,1.55 0 1,0 3.1,0a1.55,1.55 0 1,0 -3.1,0M376.90,296.79a1.55,1.55 0 1,0 3.1,0a1.55,1.55 0 1,0 -3.1,0M377.18,288.73a1.55,1.55 0 1,0 3.1,0a1.55,1.55 0 1,0 -3.1,0M377.46,291.02a1.55,1.55 0 1,0 3.1,0a1.55,1.55 0 1,0 -3.1,0M377.73,305.55a1.55,1.55 0 1,0 3.1,0a1.55,1.55 0 1,0 -3.1,0M378.01,296.79a1.55,1.55 0 1,0 3.1,0a1.55,1.55 0 1,0 -3.1,0M378.28,305.55a1.55,1.55 0 1,0 3.1,0a1.55,1.55 0 1,0 -3.1,0M378.56,312.51a1.55,1.55 0 1,0 3.1,0a1.55,1.55 0 1,0 -3.1,0M378.83,296.79a1.55,1.55 0 1,0 3.1,0a1.55,1.55 0 1,0 -3.1,0M379.11,312.51a1.55,1.55 0 1,0 3.1,0a1.55,1.55 0 1,0 -3.1,0M379.38,324.40a1.55,1.55 0 1,0 3.1,0a1.55,1.55 0 1,0 -3.1,0M379.66,305.55a1.55,1.55 0 1,0 3.1,0a1.55,1.55 0 1,0 -3.1,0M379.94,300.62a1.55,1.55 0 1,0 3.1,0a1.55,1.55 0 1,0 -3.1,0M380.21,305.55a1.55,1.55 0 1,0 3.1,0a1.55,1.55 0 1,0 -3.1,0M380.49,305.55a1.55,1.55 0 1,0 3.1,0a1.55,1.55 0 1,0 -3.1,0M380.76,305.55a1.55,1.55 0 1,0 3.1,0a1.55,1.55 0 1,0 -3.1,0M381.04,324.40a1.55,1.55 0 1,0 3.1,0a1.55,1.55 0 1,0 -3.1,0M381.31,293.66a1.55,1.55 0 1,0 3.1,0a1.55,1.55 0 1,0 -3.1,0M381.59,305.55a1.55,1.55 0 1,0 3.1,0a1.55,1.55 0 1,0 -3.1,0M381.86,288.73a1.55,1.55 0 1,0 3.1,0a1.55,1.55 0 1,0 -3.1,0M382.41,324.40a1.55,1.55 0 1,0 3.1,0a1.55,1.55 0 1,0 -3.1,0M382.69,293.66a1.55,1.55 0 1,0 3.1,0a1.55,1.55 0 1,0 -3.1,0M382.97,293.66a1.55,1.55 0 1,0 3.1,0a1.55,1.55 0 1,0 -3.1,0M383.24,305.55a1.55,1.55 0 1,0 3.1,0a1.55,1.55 0 1,0 -3.1,0M383.52,293.66a1.55,1.55 0 1,0 3.1,0a1.55,1.55 0 1,0 -3.1,0M383.79,324.40a1.55,1.55 0 1,0 3.1,0a1.55,1.55 0 1,0 -3.1,0M384.07,312.51a1.55,1.55 0 1,0 3.1,0a1.55,1.55 0 1,0 -3.1,0M384.34,291.02a1.55,1.55 0 1,0 3.1,0a1.55,1.55 0 1,0 -3.1,0M384.62,312.51a1.55,1.55 0 1,0 3.1,0a1.55,1.55 0 1,0 -3.1,0M384.89,296.79a1.55,1.55 0 1,0 3.1,0a1.55,1.55 0 1,0 -3.1,0M385.17,300.62a1.55,1.55 0 1,0 3.1,0a1.55,1.55 0 1,0 -3.1,0M385.44,293.66a1.55,1.55 0 1,0 3.1,0a1.55,1.55 0 1,0 -3.1,0M385.72,305.55a1.55,1.55 0 1,0 3.1,0a1.55,1.55 0 1,0 -3.1,0M386.00,293.66a1.55,1.55 0 1,0 3.1,0a1.55,1.55 0 1,0 -3.1,0M386.27,293.66a1.55,1.55 0 1,0 3.1,0a1.55,1.55 0 1,0 -3.1,0M386.55,300.62a1.55,1.55 0 1,0 3.1,0a1.55,1.55 0 1,0 -3.1,0M386.82,324.40a1.55,1.55 0 1,0 3.1,0a1.55,1.55 0 1,0 -3.1,0M387.10,296.79a1.55,1.55 0 1,0 3.1,0a1.55,1.55 0 1,0 -3.1,0M387.37,305.55a1.55,1.55 0 1,0 3.1,0a1.55,1.55 0 1,0 -3.1,0M387.65,293.66a1.55,1.55 0 1,0 3.1,0a1.55,1.55 0 1,0 -3.1,0M387.92,305.55a1.55,1.55 0 1,0 3.1,0a1.55,1.55 0 1,0 -3.1,0M388.20,296.79a1.55,1.55 0 1,0 3.1,0a1.55,1.55 0 1,0 -3.1,0M388.48,300.62a1.55,1.55 0 1,0 3.1,0a1.55,1.55 0 1,0 -3.1,0M388.75,324.40a1.55,1.55 0 1,0 3.1,0a1.55,1.55 0 1,0 -3.1,0M389.03,312.51a1.55,1.55 0 1,0 3.1,0a1.55,1.55 0 1,0 -3.1,0M389.30,305.55a1.55,1.55 0 1,0 3.1,0a1.55,1.55 0 1,0 -3.1,0M389.58,296.79a1.55,1.55 0 1,0 3.1,0a1.55,1.55 0 1,0 -3.1,0M389.85,312.51a1.55,1.55 0 1,0 3.1,0a1.55,1.55 0 1,0 -3.1,0M390.13,300.62a1.55,1.55 0 1,0 3.1,0a1.55,1.55 0 1,0 -3.1,0M390.40,305.55a1.55,1.55 0 1,0 3.1,0a1.55,1.55 0 1,0 -3.1,0M390.68,312.51a1.55,1.55 0 1,0 3.1,0a1.55,1.55 0 1,0 -3.1,0M390.95,324.40a1.55,1.55 0 1,0 3.1,0a1.55,1.55 0 1,0 -3.1,0M391.23,324.40a1.55,1.55 0 1,0 3.1,0a1.55,1.55 0 1,0 -3.1,0M391.78,324.40a1.55,1.55 0 1,0 3.1,0a1.55,1.55 0 1,0 -3.1,0M392.06,300.62a1.55,1.55 0 1,0 3.1,0a1.55,1.55 0 1,0 -3.1,0M392.33,296.79a1.55,1.55 0 1,0 3.1,0a1.55,1.55 0 1,0 -3.1,0M392.61,312.51a1.55,1.55 0 1,0 3.1,0a1.55,1.55 0 1,0 -3.1,0M392.88,312.51a1.55,1.55 0 1,0 3.1,0a1.55,1.55 0 1,0 -3.1,0M393.16,305.55a1.55,1.55 0 1,0 3.1,0a1.55,1.55 0 1,0 -3.1,0M393.43,305.55a1.55,1.55 0 1,0 3.1,0a1.55,1.55 0 1,0 -3.1,0M393.71,293.66a1.55,1.55 0 1,0 3.1,0a1.55,1.55 0 1,0 -3.1,0M393.99,296.79a1.55,1.55 0 1,0 3.1,0a1.55,1.55 0 1,0 -3.1,0M394.26,291.02a1.55,1.55 0 1,0 3.1,0a1.55,1.55 0 1,0 -3.1,0M394.54,296.79a1.55,1.55 0 1,0 3.1,0a1.55,1.55 0 1,0 -3.1,0M394.81,305.55a1.55,1.55 0 1,0 3.1,0a1.55,1.55 0 1,0 -3.1,0M395.09,305.55a1.55,1.55 0 1,0 3.1,0a1.55,1.55 0 1,0 -3.1,0M395.36,312.51a1.55,1.55 0 1,0 3.1,0a1.55,1.55 0 1,0 -3.1,0M395.64,324.40a1.55,1.55 0 1,0 3.1,0a1.55,1.55 0 1,0 -3.1,0M395.91,296.79a1.55,1.55 0 1,0 3.1,0a1.55,1.55 0 1,0 -3.1,0M396.19,324.40a1.55,1.55 0 1,0 3.1,0a1.55,1.55 0 1,0 -3.1,0M396.74,312.51a1.55,1.55 0 1,0 3.1,0a1.55,1.55 0 1,0 -3.1,0M397.29,305.55a1.55,1.55 0 1,0 3.1,0a1.55,1.55 0 1,0 -3.1,0M397.84,312.51a1.55,1.55 0 1,0 3.1,0a1.55,1.55 0 1,0 -3.1,0M398.12,300.62a1.55,1.55 0 1,0 3.1,0a1.55,1.55 0 1,0 -3.1,0M398.67,312.51a1.55,1.55 0 1,0 3.1,0a1.55,1.55 0 1,0 -3.1,0M398.94,324.40a1.55,1.55 0 1,0 3.1,0a1.55,1.55 0 1,0 -3.1,0M399.22,324.40a1.55,1.55 0 1,0 3.1,0a1.55,1.55 0 1,0 -3.1,0M399.77,324.40a1.55,1.55 0 1,0 3.1,0a1.55,1.55 0 1,0 -3.1,0M400.05,291.02a1.55,1.55 0 1,0 3.1,0a1.55,1.55 0 1,0 -3.1,0M400.32,296.79a1.55,1.55 0 1,0 3.1,0a1.55,1.55 0 1,0 -3.1,0M400.60,324.40a1.55,1.55 0 1,0 3.1,0a1.55,1.55 0 1,0 -3.1,0M400.87,305.55a1.55,1.55 0 1,0 3.1,0a1.55,1.55 0 1,0 -3.1,0M401.15,312.51a1.55,1.55 0 1,0 3.1,0a1.55,1.55 0 1,0 -3.1,0M401.42,312.51a1.55,1.55 0 1,0 3.1,0a1.55,1.55 0 1,0 -3.1,0M401.70,312.51a1.55,1.55 0 1,0 3.1,0a1.55,1.55 0 1,0 -3.1,0M401.97,293.66a1.55,1.55 0 1,0 3.1,0a1.55,1.55 0 1,0 -3.1,0M402.25,296.79a1.55,1.55 0 1,0 3.1,0a1.55,1.55 0 1,0 -3.1,0M402.53,312.51a1.55,1.55 0 1,0 3.1,0a1.55,1.55 0 1,0 -3.1,0M402.80,300.62a1.55,1.55 0 1,0 3.1,0a1.55,1.55 0 1,0 -3.1,0M403.08,324.40a1.55,1.55 0 1,0 3.1,0a1.55,1.55 0 1,0 -3.1,0M403.63,293.66a1.55,1.55 0 1,0 3.1,0a1.55,1.55 0 1,0 -3.1,0M403.90,293.66a1.55,1.55 0 1,0 3.1,0a1.55,1.55 0 1,0 -3.1,0M404.18,324.40a1.55,1.55 0 1,0 3.1,0a1.55,1.55 0 1,0 -3.1,0M404.45,293.66a1.55,1.55 0 1,0 3.1,0a1.55,1.55 0 1,0 -3.1,0M404.73,300.62a1.55,1.55 0 1,0 3.1,0a1.55,1.55 0 1,0 -3.1,0M405.01,305.55a1.55,1.55 0 1,0 3.1,0a1.55,1.55 0 1,0 -3.1,0M405.28,324.40a1.55,1.55 0 1,0 3.1,0a1.55,1.55 0 1,0 -3.1,0M405.56,305.55a1.55,1.55 0 1,0 3.1,0a1.55,1.55 0 1,0 -3.1,0M405.83,324.40a1.55,1.55 0 1,0 3.1,0a1.55,1.55 0 1,0 -3.1,0M406.11,312.51a1.55,1.55 0 1,0 3.1,0a1.55,1.55 0 1,0 -3.1,0M406.38,300.62a1.55,1.55 0 1,0 3.1,0a1.55,1.55 0 1,0 -3.1,0M406.66,324.40a1.55,1.55 0 1,0 3.1,0a1.55,1.55 0 1,0 -3.1,0M406.93,296.79a1.55,1.55 0 1,0 3.1,0a1.55,1.55 0 1,0 -3.1,0M407.21,296.79a1.55,1.55 0 1,0 3.1,0a1.55,1.55 0 1,0 -3.1,0M407.48,300.62a1.55,1.55 0 1,0 3.1,0a1.55,1.55 0 1,0 -3.1,0M407.76,305.55a1.55,1.55 0 1,0 3.1,0a1.55,1.55 0 1,0 -3.1,0M408.31,305.55a1.55,1.55 0 1,0 3.1,0a1.55,1.55 0 1,0 -3.1,0M408.59,324.40a1.55,1.55 0 1,0 3.1,0a1.55,1.55 0 1,0 -3.1,0M408.86,300.62a1.55,1.55 0 1,0 3.1,0a1.55,1.55 0 1,0 -3.1,0M409.14,312.51a1.55,1.55 0 1,0 3.1,0a1.55,1.55 0 1,0 -3.1,0M409.41,324.40a1.55,1.55 0 1,0 3.1,0a1.55,1.55 0 1,0 -3.1,0M409.69,300.62a1.55,1.55 0 1,0 3.1,0a1.55,1.55 0 1,0 -3.1,0M409.96,300.62a1.55,1.55 0 1,0 3.1,0a1.55,1.55 0 1,0 -3.1,0M410.24,300.62a1.55,1.55 0 1,0 3.1,0a1.55,1.55 0 1,0 -3.1,0M410.52,312.51a1.55,1.55 0 1,0 3.1,0a1.55,1.55 0 1,0 -3.1,0M410.79,312.51a1.55,1.55 0 1,0 3.1,0a1.55,1.55 0 1,0 -3.1,0M411.34,324.40a1.55,1.55 0 1,0 3.1,0a1.55,1.55 0 1,0 -3.1,0M411.62,312.51a1.55,1.55 0 1,0 3.1,0a1.55,1.55 0 1,0 -3.1,0M411.89,324.40a1.55,1.55 0 1,0 3.1,0a1.55,1.55 0 1,0 -3.1,0M412.17,296.79a1.55,1.55 0 1,0 3.1,0a1.55,1.55 0 1,0 -3.1,0M412.44,312.51a1.55,1.55 0 1,0 3.1,0a1.55,1.55 0 1,0 -3.1,0M412.72,312.51a1.55,1.55 0 1,0 3.1,0a1.55,1.55 0 1,0 -3.1,0M412.99,324.40a1.55,1.55 0 1,0 3.1,0a1.55,1.55 0 1,0 -3.1,0M413.27,312.51a1.55,1.55 0 1,0 3.1,0a1.55,1.55 0 1,0 -3.1,0M413.55,305.55a1.55,1.55 0 1,0 3.1,0a1.55,1.55 0 1,0 -3.1,0M413.82,324.40a1.55,1.55 0 1,0 3.1,0a1.55,1.55 0 1,0 -3.1,0M414.10,300.62a1.55,1.55 0 1,0 3.1,0a1.55,1.55 0 1,0 -3.1,0M414.37,324.40a1.55,1.55 0 1,0 3.1,0a1.55,1.55 0 1,0 -3.1,0M414.65,324.40a1.55,1.55 0 1,0 3.1,0a1.55,1.55 0 1,0 -3.1,0M414.92,312.51a1.55,1.55 0 1,0 3.1,0a1.55,1.55 0 1,0 -3.1,0M415.20,312.51a1.55,1.55 0 1,0 3.1,0a1.55,1.55 0 1,0 -3.1,0M415.47,312.51a1.55,1.55 0 1,0 3.1,0a1.55,1.55 0 1,0 -3.1,0M415.75,312.51a1.55,1.55 0 1,0 3.1,0a1.55,1.55 0 1,0 -3.1,0M416.03,305.55a1.55,1.55 0 1,0 3.1,0a1.55,1.55 0 1,0 -3.1,0M416.30,291.02a1.55,1.55 0 1,0 3.1,0a1.55,1.55 0 1,0 -3.1,0M416.58,300.62a1.55,1.55 0 1,0 3.1,0a1.55,1.55 0 1,0 -3.1,0M417.13,312.51a1.55,1.55 0 1,0 3.1,0a1.55,1.55 0 1,0 -3.1,0M417.40,300.62a1.55,1.55 0 1,0 3.1,0a1.55,1.55 0 1,0 -3.1,0M417.68,300.62a1.55,1.55 0 1,0 3.1,0a1.55,1.55 0 1,0 -3.1,0M275.75,297.00a1.55,1.55 0 1,0 3.1,0a1.55,1.55 0 1,0 -3.1,0M275.75,289.00a1.55,1.55 0 1,0 3.1,0a1.55,1.55 0 1,0 -3.1,0M275.75,281.00a1.55,1.55 0 1,0 3.1,0a1.55,1.55 0 1,0 -3.1,0M275.75,273.00a1.55,1.55 0 1,0 3.1,0a1.55,1.55 0 1,0 -3.1,0M275.75,265.00a1.55,1.55 0 1,0 3.1,0a1.55,1.55 0 1,0 -3.1,0M275.75,257.00a1.55,1.55 0 1,0 3.1,0a1.55,1.55 0 1,0 -3.1,0M275.75,249.00a1.55,1.55 0 1,0 3.1,0a1.55,1.55 0 1,0 -3.1,0M275.75,241.00a1.55,1.55 0 1,0 3.1,0a1.55,1.55 0 1,0 -3.1,0M275.75,233.00a1.55,1.55 0 1,0 3.1,0a1.55,1.55 0 1,0 -3.1,0M275.75,225.00a1.55,1.55 0 1,0 3.1,0a1.55,1.55 0 1,0 -3.1,0M275.75,217.00a1.55,1.55 0 1,0 3.1,0a1.55,1.55 0 1,0 -3.1,0M275.75,209.00a1.55,1.55 0 1,0 3.1,0a1.55,1.55 0 1,0 -3.1,0" fill="#fbe3e4" stroke="#e5303f" stroke-width="1.05"/>
<path d="M250.40,303.95h3.2v3.2h-3.2zM250.68,295.19h3.2v3.2h-3.2zM250.95,322.80h3.2v3.2h-3.2zM251.23,322.80h3.2v3.2h-3.2zM251.50,322.80h3.2v3.2h-3.2zM251.78,310.91h3.2v3.2h-3.2zM252.05,322.80h3.2v3.2h-3.2zM252.33,295.19h3.2v3.2h-3.2zM252.88,322.80h3.2v3.2h-3.2zM253.16,303.95h3.2v3.2h-3.2zM253.71,310.91h3.2v3.2h-3.2zM253.98,310.91h3.2v3.2h-3.2zM254.26,310.91h3.2v3.2h-3.2zM254.53,310.91h3.2v3.2h-3.2zM255.08,322.80h3.2v3.2h-3.2zM255.91,299.02h3.2v3.2h-3.2zM256.19,303.95h3.2v3.2h-3.2zM257.29,310.91h3.2v3.2h-3.2zM257.56,322.80h3.2v3.2h-3.2zM257.84,303.95h3.2v3.2h-3.2zM258.11,310.91h3.2v3.2h-3.2zM258.39,310.91h3.2v3.2h-3.2zM258.66,310.91h3.2v3.2h-3.2zM259.22,299.02h3.2v3.2h-3.2zM259.77,322.80h3.2v3.2h-3.2zM260.32,303.95h3.2v3.2h-3.2zM260.59,310.91h3.2v3.2h-3.2zM260.87,310.91h3.2v3.2h-3.2zM261.70,303.95h3.2v3.2h-3.2zM261.97,310.91h3.2v3.2h-3.2zM262.52,322.80h3.2v3.2h-3.2zM262.80,310.91h3.2v3.2h-3.2zM263.07,292.06h3.2v3.2h-3.2zM263.35,322.80h3.2v3.2h-3.2zM263.62,322.80h3.2v3.2h-3.2zM263.90,322.80h3.2v3.2h-3.2zM264.17,303.95h3.2v3.2h-3.2zM264.73,310.91h3.2v3.2h-3.2zM265.00,310.91h3.2v3.2h-3.2zM265.28,289.42h3.2v3.2h-3.2zM265.55,322.80h3.2v3.2h-3.2zM265.83,322.80h3.2v3.2h-3.2zM266.10,310.91h3.2v3.2h-3.2zM266.38,303.95h3.2v3.2h-3.2zM266.65,303.95h3.2v3.2h-3.2zM266.93,310.91h3.2v3.2h-3.2zM267.21,310.91h3.2v3.2h-3.2zM267.48,310.91h3.2v3.2h-3.2zM267.76,299.02h3.2v3.2h-3.2zM268.03,310.91h3.2v3.2h-3.2zM268.31,303.95h3.2v3.2h-3.2zM268.58,299.02h3.2v3.2h-3.2zM269.13,322.80h3.2v3.2h-3.2zM269.41,299.02h3.2v3.2h-3.2zM269.69,303.95h3.2v3.2h-3.2zM269.96,295.19h3.2v3.2h-3.2zM270.24,322.80h3.2v3.2h-3.2zM270.79,322.80h3.2v3.2h-3.2zM271.34,322.80h3.2v3.2h-3.2zM271.61,310.91h3.2v3.2h-3.2zM271.89,295.19h3.2v3.2h-3.2zM272.44,310.91h3.2v3.2h-3.2zM272.72,322.80h3.2v3.2h-3.2zM272.99,310.91h3.2v3.2h-3.2zM273.27,310.91h3.2v3.2h-3.2zM273.54,310.91h3.2v3.2h-3.2zM273.82,322.80h3.2v3.2h-3.2zM274.09,310.91h3.2v3.2h-3.2zM274.37,303.95h3.2v3.2h-3.2zM274.64,322.80h3.2v3.2h-3.2zM275.19,310.91h3.2v3.2h-3.2zM275.47,310.91h3.2v3.2h-3.2zM275.75,285.11h3.2v3.2h-3.2zM276.02,281.66h3.2v3.2h-3.2zM276.30,275.24h3.2v3.2h-3.2zM276.57,258.28h3.2v3.2h-3.2zM276.85,245.99h3.2v3.2h-3.2zM277.12,233.72h3.2v3.2h-3.2zM277.40,223.37h3.2v3.2h-3.2zM277.67,213.18h3.2v3.2h-3.2zM277.95,205.86h3.2v3.2h-3.2zM278.23,200.05h3.2v3.2h-3.2zM278.50,194.48h3.2v3.2h-3.2zM278.78,193.06h3.2v3.2h-3.2zM279.05,191.05h3.2v3.2h-3.2zM279.33,188.75h3.2v3.2h-3.2zM279.60,192.02h3.2v3.2h-3.2zM279.88,195.43h3.2v3.2h-3.2zM280.15,190.84h3.2v3.2h-3.2zM280.43,194.19h3.2v3.2h-3.2zM280.70,196.40h3.2v3.2h-3.2zM280.98,194.57h3.2v3.2h-3.2zM281.26,197.04h3.2v3.2h-3.2zM281.53,198.38h3.2v3.2h-3.2zM281.81,199.25h3.2v3.2h-3.2zM282.08,201.26h3.2v3.2h-3.2zM282.36,199.81h3.2v3.2h-3.2zM282.63,198.91h3.2v3.2h-3.2zM282.91,202.31h3.2v3.2h-3.2zM283.18,201.27h3.2v3.2h-3.2zM283.46,199.52h3.2v3.2h-3.2zM283.74,205.82h3.2v3.2h-3.2zM284.01,203.71h3.2v3.2h-3.2zM284.29,204.63h3.2v3.2h-3.2zM284.56,207.09h3.2v3.2h-3.2zM284.84,206.24h3.2v3.2h-3.2zM285.11,207.37h3.2v3.2h-3.2zM285.39,207.52h3.2v3.2h-3.2zM285.66,208.90h3.2v3.2h-3.2zM285.94,209.79h3.2v3.2h-3.2zM286.21,209.19h3.2v3.2h-3.2zM286.49,209.14h3.2v3.2h-3.2zM286.77,209.28h3.2v3.2h-3.2zM287.04,211.32h3.2v3.2h-3.2zM287.32,211.64h3.2v3.2h-3.2zM287.59,210.35h3.2v3.2h-3.2zM287.87,212.64h3.2v3.2h-3.2zM288.14,215.48h3.2v3.2h-3.2zM288.42,214.06h3.2v3.2h-3.2zM288.69,219.26h3.2v3.2h-3.2zM288.97,219.26h3.2v3.2h-3.2zM289.25,216.89h3.2v3.2h-3.2zM289.52,216.86h3.2v3.2h-3.2zM289.80,217.03h3.2v3.2h-3.2zM290.07,219.93h3.2v3.2h-3.2zM290.35,221.83h3.2v3.2h-3.2zM290.62,218.58h3.2v3.2h-3.2zM290.90,219.89h3.2v3.2h-3.2zM291.17,224.34h3.2v3.2h-3.2zM291.45,220.19h3.2v3.2h-3.2zM291.72,222.81h3.2v3.2h-3.2zM292.00,227.67h3.2v3.2h-3.2zM292.28,225.65h3.2v3.2h-3.2zM292.55,226.38h3.2v3.2h-3.2zM292.83,222.56h3.2v3.2h-3.2zM293.10,227.61h3.2v3.2h-3.2zM293.38,228.64h3.2v3.2h-3.2zM293.65,228.43h3.2v3.2h-3.2zM293.93,229.89h3.2v3.2h-3.2zM294.20,231.82h3.2v3.2h-3.2zM294.48,228.36h3.2v3.2h-3.2zM294.76,226.70h3.2v3.2h-3.2zM295.03,230.27h3.2v3.2h-3.2zM295.31,231.74h3.2v3.2h-3.2zM295.58,232.61h3.2v3.2h-3.2zM295.86,230.35h3.2v3.2h-3.2zM296.13,235.31h3.2v3.2h-3.2zM296.41,232.52h3.2v3.2h-3.2zM296.68,237.43h3.2v3.2h-3.2zM296.96,233.34h3.2v3.2h-3.2zM297.23,233.62h3.2v3.2h-3.2zM297.51,239.84h3.2v3.2h-3.2zM297.79,238.40h3.2v3.2h-3.2zM298.06,237.19h3.2v3.2h-3.2zM298.34,242.96h3.2v3.2h-3.2zM298.61,236.73h3.2v3.2h-3.2zM298.89,238.40h3.2v3.2h-3.2zM299.16,234.50h3.2v3.2h-3.2zM299.44,238.40h3.2v3.2h-3.2zM299.71,240.67h3.2v3.2h-3.2zM299.99,237.78h3.2v3.2h-3.2zM300.27,235.74h3.2v3.2h-3.2zM300.54,235.31h3.2v3.2h-3.2zM300.82,243.63h3.2v3.2h-3.2zM301.09,242.96h3.2v3.2h-3.2zM301.37,238.03h3.2v3.2h-3.2zM301.64,244.32h3.2v3.2h-3.2zM301.92,242.32h3.2v3.2h-3.2zM302.19,244.50h3.2v3.2h-3.2zM302.47,239.43h3.2v3.2h-3.2zM302.75,243.13h3.2v3.2h-3.2zM303.02,244.50h3.2v3.2h-3.2zM303.30,247.00h3.2v3.2h-3.2zM303.57,242.01h3.2v3.2h-3.2zM303.85,243.80h3.2v3.2h-3.2zM304.12,242.64h3.2v3.2h-3.2zM304.40,246.79h3.2v3.2h-3.2zM304.67,250.93h3.2v3.2h-3.2zM304.95,250.93h3.2v3.2h-3.2zM305.22,244.86h3.2v3.2h-3.2zM305.50,250.17h3.2v3.2h-3.2zM305.78,253.14h3.2v3.2h-3.2zM306.05,246.19h3.2v3.2h-3.2zM306.33,245.61h3.2v3.2h-3.2zM306.60,245.61h3.2v3.2h-3.2zM306.88,249.92h3.2v3.2h-3.2zM307.15,246.59h3.2v3.2h-3.2zM307.43,248.28h3.2v3.2h-3.2zM307.70,249.44h3.2v3.2h-3.2zM307.98,249.20h3.2v3.2h-3.2zM308.25,247.63h3.2v3.2h-3.2zM308.53,252.00h3.2v3.2h-3.2zM308.81,247.63h3.2v3.2h-3.2zM309.08,250.17h3.2v3.2h-3.2zM309.36,248.97h3.2v3.2h-3.2zM309.63,253.44h3.2v3.2h-3.2zM309.91,249.44h3.2v3.2h-3.2zM310.18,247.41h3.2v3.2h-3.2zM310.46,252.85h3.2v3.2h-3.2zM310.73,251.19h3.2v3.2h-3.2zM311.01,247.84h3.2v3.2h-3.2zM311.29,249.92h3.2v3.2h-3.2zM311.56,250.93h3.2v3.2h-3.2zM311.84,251.19h3.2v3.2h-3.2zM312.11,255.69h3.2v3.2h-3.2zM312.39,253.75h3.2v3.2h-3.2zM312.66,261.33h3.2v3.2h-3.2zM312.94,252.56h3.2v3.2h-3.2zM313.21,252.56h3.2v3.2h-3.2zM313.49,257.88h3.2v3.2h-3.2zM313.76,256.39h3.2v3.2h-3.2zM314.04,250.42h3.2v3.2h-3.2zM314.32,256.39h3.2v3.2h-3.2zM314.59,255.35h3.2v3.2h-3.2zM314.87,254.69h3.2v3.2h-3.2zM315.14,254.69h3.2v3.2h-3.2zM315.42,256.04h3.2v3.2h-3.2zM315.69,255.69h3.2v3.2h-3.2zM315.97,253.44h3.2v3.2h-3.2zM316.24,255.02h3.2v3.2h-3.2zM316.52,260.86h3.2v3.2h-3.2zM316.80,256.04h3.2v3.2h-3.2zM317.07,257.12h3.2v3.2h-3.2zM317.35,257.12h3.2v3.2h-3.2zM317.62,259.52h3.2v3.2h-3.2zM317.90,257.88h3.2v3.2h-3.2zM318.17,259.10h3.2v3.2h-3.2zM318.45,256.04h3.2v3.2h-3.2zM318.72,263.89h3.2v3.2h-3.2zM319.00,268.28h3.2v3.2h-3.2zM319.27,260.40h3.2v3.2h-3.2zM319.55,261.33h3.2v3.2h-3.2zM319.83,260.86h3.2v3.2h-3.2zM320.10,260.86h3.2v3.2h-3.2zM320.38,262.82h3.2v3.2h-3.2zM320.65,263.35h3.2v3.2h-3.2zM320.93,259.10h3.2v3.2h-3.2zM321.20,259.10h3.2v3.2h-3.2zM321.48,263.89h3.2v3.2h-3.2zM321.75,259.52h3.2v3.2h-3.2zM322.03,264.45h3.2v3.2h-3.2zM322.31,263.35h3.2v3.2h-3.2zM322.58,261.33h3.2v3.2h-3.2zM322.86,262.31h3.2v3.2h-3.2zM323.13,260.40h3.2v3.2h-3.2zM323.41,257.50h3.2v3.2h-3.2zM323.68,259.95h3.2v3.2h-3.2zM323.96,263.35h3.2v3.2h-3.2zM324.23,269.77h3.2v3.2h-3.2zM324.51,259.52h3.2v3.2h-3.2zM324.78,264.45h3.2v3.2h-3.2zM325.06,261.81h3.2v3.2h-3.2zM325.34,263.35h3.2v3.2h-3.2zM325.61,260.86h3.2v3.2h-3.2zM325.89,262.31h3.2v3.2h-3.2zM326.16,264.45h3.2v3.2h-3.2zM326.44,266.26h3.2v3.2h-3.2zM326.71,261.81h3.2v3.2h-3.2zM326.99,262.82h3.2v3.2h-3.2zM327.26,267.58h3.2v3.2h-3.2zM327.54,265.64h3.2v3.2h-3.2zM327.82,265.04h3.2v3.2h-3.2zM328.09,262.82h3.2v3.2h-3.2zM328.37,270.57h3.2v3.2h-3.2zM328.64,266.91h3.2v3.2h-3.2zM328.92,271.41h3.2v3.2h-3.2zM329.19,269.01h3.2v3.2h-3.2zM329.47,264.45h3.2v3.2h-3.2zM329.74,267.58h3.2v3.2h-3.2zM330.02,273.22h3.2v3.2h-3.2zM330.29,280.17h3.2v3.2h-3.2zM330.57,263.89h3.2v3.2h-3.2zM330.85,269.77h3.2v3.2h-3.2zM331.12,273.22h3.2v3.2h-3.2zM331.40,264.45h3.2v3.2h-3.2zM331.67,267.58h3.2v3.2h-3.2zM331.95,273.22h3.2v3.2h-3.2zM332.22,268.28h3.2v3.2h-3.2zM332.50,277.53h3.2v3.2h-3.2zM332.77,269.77h3.2v3.2h-3.2zM333.05,270.57h3.2v3.2h-3.2zM333.33,267.58h3.2v3.2h-3.2zM333.60,267.58h3.2v3.2h-3.2zM333.88,269.77h3.2v3.2h-3.2zM334.15,269.01h3.2v3.2h-3.2zM334.43,264.45h3.2v3.2h-3.2zM334.70,268.28h3.2v3.2h-3.2zM334.98,269.77h3.2v3.2h-3.2zM335.25,272.29h3.2v3.2h-3.2zM335.53,266.26h3.2v3.2h-3.2zM335.80,271.41h3.2v3.2h-3.2zM336.08,272.29h3.2v3.2h-3.2zM336.36,281.66h3.2v3.2h-3.2zM336.63,271.41h3.2v3.2h-3.2zM336.91,276.34h3.2v3.2h-3.2zM337.18,277.53h3.2v3.2h-3.2zM337.46,271.41h3.2v3.2h-3.2zM337.73,272.29h3.2v3.2h-3.2zM338.01,289.42h3.2v3.2h-3.2zM338.28,277.53h3.2v3.2h-3.2zM338.56,271.41h3.2v3.2h-3.2zM338.84,265.04h3.2v3.2h-3.2zM339.11,274.20h3.2v3.2h-3.2zM339.39,273.22h3.2v3.2h-3.2zM339.66,267.58h3.2v3.2h-3.2zM339.94,272.29h3.2v3.2h-3.2zM340.21,263.89h3.2v3.2h-3.2zM340.49,277.53h3.2v3.2h-3.2zM340.76,271.41h3.2v3.2h-3.2zM341.04,274.20h3.2v3.2h-3.2zM341.31,275.24h3.2v3.2h-3.2zM341.59,271.41h3.2v3.2h-3.2zM341.87,280.17h3.2v3.2h-3.2zM342.14,276.34h3.2v3.2h-3.2zM342.42,280.17h3.2v3.2h-3.2zM342.69,281.66h3.2v3.2h-3.2zM342.97,274.20h3.2v3.2h-3.2zM343.24,269.01h3.2v3.2h-3.2zM343.52,274.20h3.2v3.2h-3.2zM343.79,275.24h3.2v3.2h-3.2zM344.07,274.20h3.2v3.2h-3.2zM344.35,269.77h3.2v3.2h-3.2zM344.62,270.57h3.2v3.2h-3.2zM344.90,277.53h3.2v3.2h-3.2zM345.17,285.11h3.2v3.2h-3.2zM345.45,278.80h3.2v3.2h-3.2zM345.72,275.24h3.2v3.2h-3.2zM346.00,274.20h3.2v3.2h-3.2zM346.27,280.17h3.2v3.2h-3.2zM346.55,278.80h3.2v3.2h-3.2zM346.82,273.22h3.2v3.2h-3.2zM347.10,276.34h3.2v3.2h-3.2zM347.38,278.80h3.2v3.2h-3.2zM347.65,280.17h3.2v3.2h-3.2zM347.93,270.57h3.2v3.2h-3.2zM348.20,287.13h3.2v3.2h-3.2zM348.48,275.24h3.2v3.2h-3.2zM348.75,285.11h3.2v3.2h-3.2zM349.03,277.53h3.2v3.2h-3.2zM349.30,272.29h3.2v3.2h-3.2zM349.58,277.53h3.2v3.2h-3.2zM349.86,272.29h3.2v3.2h-3.2zM350.13,278.80h3.2v3.2h-3.2zM350.41,287.13h3.2v3.2h-3.2zM350.68,278.80h3.2v3.2h-3.2zM350.96,287.13h3.2v3.2h-3.2zM351.23,285.11h3.2v3.2h-3.2zM351.51,283.30h3.2v3.2h-3.2zM351.78,303.95h3.2v3.2h-3.2zM352.06,285.11h3.2v3.2h-3.2zM352.33,277.53h3.2v3.2h-3.2zM352.61,269.77h3.2v3.2h-3.2zM352.89,277.53h3.2v3.2h-3.2zM353.16,274.20h3.2v3.2h-3.2zM353.44,278.80h3.2v3.2h-3.2zM353.71,285.11h3.2v3.2h-3.2zM353.99,281.66h3.2v3.2h-3.2zM354.26,276.34h3.2v3.2h-3.2zM354.54,271.41h3.2v3.2h-3.2zM354.81,276.34h3.2v3.2h-3.2zM355.09,277.53h3.2v3.2h-3.2zM355.37,277.53h3.2v3.2h-3.2zM355.64,270.57h3.2v3.2h-3.2zM355.92,281.66h3.2v3.2h-3.2zM356.19,283.30h3.2v3.2h-3.2zM356.47,277.53h3.2v3.2h-3.2zM356.74,289.42h3.2v3.2h-3.2zM357.02,280.17h3.2v3.2h-3.2zM357.29,276.34h3.2v3.2h-3.2zM357.57,280.17h3.2v3.2h-3.2zM357.84,277.53h3.2v3.2h-3.2zM358.12,283.30h3.2v3.2h-3.2zM358.40,287.13h3.2v3.2h-3.2zM358.67,273.22h3.2v3.2h-3.2zM358.95,285.11h3.2v3.2h-3.2zM359.22,287.13h3.2v3.2h-3.2zM359.50,277.53h3.2v3.2h-3.2zM359.77,281.66h3.2v3.2h-3.2zM360.05,283.30h3.2v3.2h-3.2zM360.32,299.02h3.2v3.2h-3.2zM360.60,280.17h3.2v3.2h-3.2zM360.88,280.17h3.2v3.2h-3.2zM361.15,283.30h3.2v3.2h-3.2zM361.43,285.11h3.2v3.2h-3.2zM361.70,289.42h3.2v3.2h-3.2zM361.98,295.19h3.2v3.2h-3.2zM362.25,283.30h3.2v3.2h-3.2zM362.53,289.42h3.2v3.2h-3.2zM362.80,285.11h3.2v3.2h-3.2zM363.08,280.17h3.2v3.2h-3.2zM363.35,287.13h3.2v3.2h-3.2zM363.63,283.30h3.2v3.2h-3.2zM363.91,285.11h3.2v3.2h-3.2zM364.18,292.06h3.2v3.2h-3.2zM364.46,287.13h3.2v3.2h-3.2zM364.73,283.30h3.2v3.2h-3.2zM365.01,289.42h3.2v3.2h-3.2zM365.28,322.80h3.2v3.2h-3.2zM365.56,292.06h3.2v3.2h-3.2zM365.83,281.66h3.2v3.2h-3.2zM366.11,277.53h3.2v3.2h-3.2zM366.39,292.06h3.2v3.2h-3.2zM366.66,280.17h3.2v3.2h-3.2zM366.94,292.06h3.2v3.2h-3.2zM367.21,295.19h3.2v3.2h-3.2zM367.49,280.17h3.2v3.2h-3.2zM367.76,299.02h3.2v3.2h-3.2zM368.04,287.13h3.2v3.2h-3.2zM368.31,299.02h3.2v3.2h-3.2zM368.59,287.13h3.2v3.2h-3.2zM368.86,283.30h3.2v3.2h-3.2zM369.14,281.66h3.2v3.2h-3.2zM369.42,278.80h3.2v3.2h-3.2zM369.69,289.42h3.2v3.2h-3.2zM369.97,295.19h3.2v3.2h-3.2zM370.24,299.02h3.2v3.2h-3.2zM370.52,289.42h3.2v3.2h-3.2zM370.79,285.11h3.2v3.2h-3.2zM371.07,299.02h3.2v3.2h-3.2zM371.34,281.66h3.2v3.2h-3.2zM371.62,285.11h3.2v3.2h-3.2zM371.90,303.95h3.2v3.2h-3.2zM372.17,287.13h3.2v3.2h-3.2zM372.45,299.02h3.2v3.2h-3.2zM372.72,295.19h3.2v3.2h-3.2zM373.00,281.66h3.2v3.2h-3.2zM373.27,283.30h3.2v3.2h-3.2zM373.55,287.13h3.2v3.2h-3.2zM373.82,283.30h3.2v3.2h-3.2zM374.10,292.06h3.2v3.2h-3.2zM374.38,278.80h3.2v3.2h-3.2zM374.65,287.13h3.2v3.2h-3.2zM374.93,283.30h3.2v3.2h-3.2zM375.20,299.02h3.2v3.2h-3.2zM375.48,283.30h3.2v3.2h-3.2zM375.75,285.11h3.2v3.2h-3.2zM376.03,289.42h3.2v3.2h-3.2zM376.30,280.17h3.2v3.2h-3.2zM376.58,278.80h3.2v3.2h-3.2zM376.85,303.95h3.2v3.2h-3.2zM377.13,295.19h3.2v3.2h-3.2zM377.41,289.42h3.2v3.2h-3.2zM377.68,287.13h3.2v3.2h-3.2zM377.96,287.13h3.2v3.2h-3.2zM378.23,289.42h3.2v3.2h-3.2zM378.51,295.19h3.2v3.2h-3.2zM378.78,295.19h3.2v3.2h-3.2zM379.06,285.11h3.2v3.2h-3.2zM379.33,299.02h3.2v3.2h-3.2zM379.61,285.11h3.2v3.2h-3.2zM379.88,281.66h3.2v3.2h-3.2zM380.16,295.19h3.2v3.2h-3.2zM380.44,281.66h3.2v3.2h-3.2zM380.71,287.13h3.2v3.2h-3.2zM380.99,281.66h3.2v3.2h-3.2zM381.26,322.80h3.2v3.2h-3.2zM381.54,285.11h3.2v3.2h-3.2zM381.81,287.13h3.2v3.2h-3.2zM382.09,295.19h3.2v3.2h-3.2zM382.36,299.02h3.2v3.2h-3.2zM382.64,289.42h3.2v3.2h-3.2zM382.92,295.19h3.2v3.2h-3.2zM383.19,278.80h3.2v3.2h-3.2zM383.47,295.19h3.2v3.2h-3.2zM383.74,310.91h3.2v3.2h-3.2zM384.02,285.11h3.2v3.2h-3.2zM384.29,280.17h3.2v3.2h-3.2zM384.57,289.42h3.2v3.2h-3.2zM384.84,281.66h3.2v3.2h-3.2zM385.12,295.19h3.2v3.2h-3.2zM385.39,310.91h3.2v3.2h-3.2zM385.67,295.19h3.2v3.2h-3.2zM385.95,287.13h3.2v3.2h-3.2zM386.22,285.11h3.2v3.2h-3.2zM386.50,299.02h3.2v3.2h-3.2zM386.77,283.30h3.2v3.2h-3.2zM387.05,295.19h3.2v3.2h-3.2zM387.32,299.02h3.2v3.2h-3.2zM387.60,292.06h3.2v3.2h-3.2zM387.87,303.95h3.2v3.2h-3.2zM388.15,289.42h3.2v3.2h-3.2zM388.43,303.95h3.2v3.2h-3.2zM388.70,292.06h3.2v3.2h-3.2zM389.25,295.19h3.2v3.2h-3.2zM389.53,289.42h3.2v3.2h-3.2zM389.80,285.11h3.2v3.2h-3.2zM390.08,299.02h3.2v3.2h-3.2zM390.35,303.95h3.2v3.2h-3.2zM390.63,295.19h3.2v3.2h-3.2zM390.90,299.02h3.2v3.2h-3.2zM391.18,292.06h3.2v3.2h-3.2zM391.46,295.19h3.2v3.2h-3.2zM391.73,292.06h3.2v3.2h-3.2zM392.01,295.19h3.2v3.2h-3.2zM392.28,295.19h3.2v3.2h-3.2zM392.56,289.42h3.2v3.2h-3.2zM392.83,299.02h3.2v3.2h-3.2zM393.11,292.06h3.2v3.2h-3.2zM393.38,289.42h3.2v3.2h-3.2zM393.66,299.02h3.2v3.2h-3.2zM393.94,299.02h3.2v3.2h-3.2zM394.21,295.19h3.2v3.2h-3.2zM394.49,292.06h3.2v3.2h-3.2zM394.76,295.19h3.2v3.2h-3.2zM395.04,303.95h3.2v3.2h-3.2zM395.31,289.42h3.2v3.2h-3.2zM395.59,299.02h3.2v3.2h-3.2zM395.86,280.17h3.2v3.2h-3.2zM396.14,281.66h3.2v3.2h-3.2zM396.41,292.06h3.2v3.2h-3.2zM396.69,295.19h3.2v3.2h-3.2zM396.97,281.66h3.2v3.2h-3.2zM397.24,295.19h3.2v3.2h-3.2zM397.52,303.95h3.2v3.2h-3.2zM397.79,287.13h3.2v3.2h-3.2zM398.07,292.06h3.2v3.2h-3.2zM398.34,292.06h3.2v3.2h-3.2zM398.62,322.80h3.2v3.2h-3.2zM398.89,299.02h3.2v3.2h-3.2zM399.17,310.91h3.2v3.2h-3.2zM399.45,295.19h3.2v3.2h-3.2zM399.72,292.06h3.2v3.2h-3.2zM400.00,299.02h3.2v3.2h-3.2zM400.27,299.02h3.2v3.2h-3.2zM400.55,295.19h3.2v3.2h-3.2zM400.82,281.66h3.2v3.2h-3.2zM401.10,299.02h3.2v3.2h-3.2zM401.37,280.17h3.2v3.2h-3.2zM401.65,299.02h3.2v3.2h-3.2zM401.92,303.95h3.2v3.2h-3.2zM402.20,299.02h3.2v3.2h-3.2zM402.48,292.06h3.2v3.2h-3.2zM402.75,289.42h3.2v3.2h-3.2zM403.03,283.30h3.2v3.2h-3.2zM403.30,310.91h3.2v3.2h-3.2zM403.58,289.42h3.2v3.2h-3.2zM403.85,295.19h3.2v3.2h-3.2zM404.13,310.91h3.2v3.2h-3.2zM404.40,295.19h3.2v3.2h-3.2zM404.68,289.42h3.2v3.2h-3.2zM404.96,303.95h3.2v3.2h-3.2zM405.23,292.06h3.2v3.2h-3.2zM405.51,287.13h3.2v3.2h-3.2zM405.78,303.95h3.2v3.2h-3.2zM406.06,285.11h3.2v3.2h-3.2zM406.33,292.06h3.2v3.2h-3.2zM406.61,295.19h3.2v3.2h-3.2zM406.88,310.91h3.2v3.2h-3.2zM407.16,303.95h3.2v3.2h-3.2zM407.43,285.11h3.2v3.2h-3.2zM407.71,292.06h3.2v3.2h-3.2zM407.99,299.02h3.2v3.2h-3.2zM408.26,295.19h3.2v3.2h-3.2zM408.54,283.30h3.2v3.2h-3.2zM408.81,295.19h3.2v3.2h-3.2zM409.09,303.95h3.2v3.2h-3.2zM409.36,303.95h3.2v3.2h-3.2zM409.64,303.95h3.2v3.2h-3.2zM409.91,292.06h3.2v3.2h-3.2zM410.19,295.19h3.2v3.2h-3.2zM410.47,299.02h3.2v3.2h-3.2zM410.74,322.80h3.2v3.2h-3.2zM411.02,299.02h3.2v3.2h-3.2zM411.29,299.02h3.2v3.2h-3.2zM411.57,303.95h3.2v3.2h-3.2zM411.84,292.06h3.2v3.2h-3.2zM412.12,310.91h3.2v3.2h-3.2zM412.39,310.91h3.2v3.2h-3.2zM412.67,287.13h3.2v3.2h-3.2zM412.94,299.02h3.2v3.2h-3.2zM413.22,292.06h3.2v3.2h-3.2zM413.50,303.95h3.2v3.2h-3.2zM413.77,295.19h3.2v3.2h-3.2zM414.05,295.19h3.2v3.2h-3.2zM414.32,287.13h3.2v3.2h-3.2zM414.60,299.02h3.2v3.2h-3.2zM414.87,303.95h3.2v3.2h-3.2zM415.15,299.02h3.2v3.2h-3.2zM415.42,295.19h3.2v3.2h-3.2zM415.70,292.06h3.2v3.2h-3.2zM415.98,310.91h3.2v3.2h-3.2zM416.25,303.95h3.2v3.2h-3.2zM416.53,310.91h3.2v3.2h-3.2zM416.80,299.02h3.2v3.2h-3.2zM417.08,310.91h3.2v3.2h-3.2zM417.35,322.80h3.2v3.2h-3.2zM417.63,303.95h3.2v3.2h-3.2zM276.10,299.40h3.2v3.2h-3.2zM276.10,291.40h3.2v3.2h-3.2zM276.10,283.40h3.2v3.2h-3.2zM276.10,275.40h3.2v3.2h-3.2zM276.10,267.40h3.2v3.2h-3.2zM276.10,259.40h3.2v3.2h-3.2zM276.10,251.40h3.2v3.2h-3.2zM276.10,243.40h3.2v3.2h-3.2zM276.10,235.40h3.2v3.2h-3.2zM276.10,227.40h3.2v3.2h-3.2zM276.10,219.40h3.2v3.2h-3.2zM276.10,211.40h3.2v3.2h-3.2zM276.10,203.40h3.2v3.2h-3.2z" fill="#3b8ccc"/>
<rect x="251.6" y="190.4" width="167.40" height="134.00" fill="none" stroke="#141414" stroke-width="1.3"/>
<line x1="251.60" y1="190.40" x2="251.60" y2="324.40" stroke="#444" stroke-width="1.3" />
<line x1="249.00" y1="324.40" x2="251.60" y2="324.40" stroke="#222" stroke-width="1" />
<text stroke="#231f20" stroke-width="0.28" x="244.6" y="328.20" font-size="10.5" font-weight="bold" text-anchor="end" fill="#231f20">10</text>
<text stroke="#231f20" stroke-width="0.3" x="245.0" y="323.80" font-size="5.8" font-weight="normal" fill="#231f20">0</text>
<line x1="249.00" y1="284.90" x2="251.60" y2="284.90" stroke="#222" stroke-width="1" />
<text stroke="#231f20" stroke-width="0.28" x="244.6" y="288.70" font-size="10.5" font-weight="bold" text-anchor="end" fill="#231f20">10</text>
<text stroke="#231f20" stroke-width="0.3" x="245.0" y="284.30" font-size="5.8" font-weight="normal" fill="#231f20">1</text>
<line x1="249.00" y1="245.40" x2="251.60" y2="245.40" stroke="#222" stroke-width="1" />
<text stroke="#231f20" stroke-width="0.28" x="244.6" y="249.20" font-size="10.5" font-weight="bold" text-anchor="end" fill="#231f20">10</text>
<text stroke="#231f20" stroke-width="0.3" x="245.0" y="244.80" font-size="5.8" font-weight="normal" fill="#231f20">2</text>
<line x1="249.00" y1="205.90" x2="251.60" y2="205.90" stroke="#222" stroke-width="1" />
<text stroke="#231f20" stroke-width="0.28" x="244.6" y="209.70" font-size="10.5" font-weight="bold" text-anchor="end" fill="#231f20">10</text>
<text stroke="#231f20" stroke-width="0.3" x="245.0" y="205.30" font-size="5.8" font-weight="normal" fill="#231f20">3</text>
<line x1="249.90" y1="312.51" x2="251.60" y2="312.51" stroke="#222" stroke-width="0.8" />
<line x1="249.90" y1="305.55" x2="251.60" y2="305.55" stroke="#222" stroke-width="0.8" />
<line x1="249.90" y1="300.62" x2="251.60" y2="300.62" stroke="#222" stroke-width="0.8" />
<line x1="249.90" y1="296.79" x2="251.60" y2="296.79" stroke="#222" stroke-width="0.8" />
<line x1="249.90" y1="293.66" x2="251.60" y2="293.66" stroke="#222" stroke-width="0.8" />
<line x1="249.90" y1="291.02" x2="251.60" y2="291.02" stroke="#222" stroke-width="0.8" />
<line x1="249.90" y1="288.73" x2="251.60" y2="288.73" stroke="#222" stroke-width="0.8" />
<line x1="249.90" y1="286.71" x2="251.60" y2="286.71" stroke="#222" stroke-width="0.8" />
<line x1="249.90" y1="273.01" x2="251.60" y2="273.01" stroke="#222" stroke-width="0.8" />
<line x1="249.90" y1="266.05" x2="251.60" y2="266.05" stroke="#222" stroke-width="0.8" />
<line x1="249.90" y1="261.12" x2="251.60" y2="261.12" stroke="#222" stroke-width="0.8" />
<line x1="249.90" y1="257.29" x2="251.60" y2="257.29" stroke="#222" stroke-width="0.8" />
<line x1="249.90" y1="254.16" x2="251.60" y2="254.16" stroke="#222" stroke-width="0.8" />
<line x1="249.90" y1="251.52" x2="251.60" y2="251.52" stroke="#222" stroke-width="0.8" />
<line x1="249.90" y1="249.23" x2="251.60" y2="249.23" stroke="#222" stroke-width="0.8" />
<line x1="249.90" y1="247.21" x2="251.60" y2="247.21" stroke="#222" stroke-width="0.8" />
<line x1="249.90" y1="233.51" x2="251.60" y2="233.51" stroke="#222" stroke-width="0.8" />
<line x1="249.90" y1="226.55" x2="251.60" y2="226.55" stroke="#222" stroke-width="0.8" />
<line x1="249.90" y1="221.62" x2="251.60" y2="221.62" stroke="#222" stroke-width="0.8" />
<line x1="249.90" y1="217.79" x2="251.60" y2="217.79" stroke="#222" stroke-width="0.8" />
<line x1="249.90" y1="214.66" x2="251.60" y2="214.66" stroke="#222" stroke-width="0.8" />
<line x1="249.90" y1="212.02" x2="251.60" y2="212.02" stroke="#222" stroke-width="0.8" />
<line x1="249.90" y1="209.73" x2="251.60" y2="209.73" stroke="#222" stroke-width="0.8" />
<line x1="249.90" y1="207.71" x2="251.60" y2="207.71" stroke="#222" stroke-width="0.8" />
<line x1="249.90" y1="194.01" x2="251.60" y2="194.01" stroke="#222" stroke-width="0.8" />
<line x1="252.00" y1="324.40" x2="252.00" y2="326.60" stroke="#222" stroke-width="1" />
<text stroke="#231f20" stroke-width="0.28" x="252.20" y="337.60" font-size="10.5" font-weight="bold" font-style="normal" text-anchor="middle" fill="#231f20" >0</text>
<line x1="307.10" y1="324.40" x2="307.10" y2="326.60" stroke="#222" stroke-width="1" />
<text stroke="#231f20" stroke-width="0.28" x="307.30" y="337.60" font-size="10.5" font-weight="bold" font-style="normal" text-anchor="middle" fill="#231f20" >20</text>
<line x1="362.20" y1="324.40" x2="362.20" y2="326.60" stroke="#222" stroke-width="1" />
<text stroke="#231f20" stroke-width="0.28" x="362.40" y="337.60" font-size="10.5" font-weight="bold" font-style="normal" text-anchor="middle" fill="#231f20" >40</text>
<line x1="417.30" y1="324.40" x2="417.30" y2="326.60" stroke="#222" stroke-width="1" />
<text stroke="#231f20" stroke-width="0.28" x="417.50" y="337.60" font-size="10.5" font-weight="bold" font-style="normal" text-anchor="middle" fill="#231f20" >60</text>
<line x1="279.55" y1="324.40" x2="279.55" y2="326.00" stroke="#222" stroke-width="0.9" />
<line x1="334.65" y1="324.40" x2="334.65" y2="326.00" stroke="#222" stroke-width="0.9" />
<line x1="389.75" y1="324.40" x2="389.75" y2="326.00" stroke="#222" stroke-width="0.9" />
<text stroke="#231f20" stroke-width="0.28" x="337.80" y="352.40" font-size="10.9" font-weight="bold" font-style="normal" text-anchor="middle" fill="#231f20" >Time (ns)</text>
<text stroke="#231f20" stroke-width="0.28" transform="translate(229.8,256.2) rotate(-90)" font-size="11.25" font-weight="bold" text-anchor="middle" fill="#231f20">PL intensity (Counts)</text>
<rect x="341.9" y="200.1" width="3.1" height="3.1" fill="#3b8ccc"/>
<circle cx="343.4" cy="215.6" r="1.55" fill="#fbe3e4" stroke="#e5303f" stroke-width="1.05"/>
<text stroke="#231f20" stroke-width="0.28" x="350.4" y="205.3" font-size="9" font-weight="bold" fill="#231f20">PVK/C<tspan font-size="6.3" dy="1.7">60</tspan></text>
<text stroke="#231f20" stroke-width="0.28" x="350.4" y="219.3" font-size="9" font-weight="bold" fill="#231f20">PVK+TPPC/C<tspan font-size="6.3" dy="1.7">60</tspan></text>
<text stroke="#231f20" stroke-width="0.28" x="454.40" y="193.60" font-size="14.5" font-weight="bold" font-style="normal" text-anchor="start" fill="#231f20" >f</text>
<rect x="504.4" y="248.84" width="20.8" height="75.76" fill="#308bb2"/>
<rect x="546.4" y="296.33" width="20.8" height="28.27" fill="#348bc6"/>
<rect x="588.4" y="231.78" width="20.8" height="92.82" fill="#b04244"/>
<rect x="630.2" y="261.88" width="20.8" height="62.72" fill="#e5444a"/>
<line x1="514.80" y1="242.15" x2="514.80" y2="255.53" stroke="#111" stroke-width="1" />
<line x1="513.00" y1="242.15" x2="516.60" y2="242.15" stroke="#111" stroke-width="1" />
<line x1="513.00" y1="255.53" x2="516.60" y2="255.53" stroke="#111" stroke-width="1" />
<line x1="556.80" y1="288.64" x2="556.80" y2="303.69" stroke="#111" stroke-width="1" />
<line x1="555.00" y1="288.64" x2="558.60" y2="288.64" stroke="#111" stroke-width="1" />
<line x1="555.00" y1="303.69" x2="558.60" y2="303.69" stroke="#111" stroke-width="1" />
<line x1="598.80" y1="223.08" x2="598.80" y2="240.47" stroke="#111" stroke-width="1" />
<line x1="597.00" y1="223.08" x2="600.60" y2="223.08" stroke="#111" stroke-width="1" />
<line x1="597.00" y1="240.47" x2="600.60" y2="240.47" stroke="#111" stroke-width="1" />
<line x1="640.60" y1="254.52" x2="640.60" y2="269.57" stroke="#111" stroke-width="1" />
<line x1="638.80" y1="254.52" x2="642.40" y2="254.52" stroke="#111" stroke-width="1" />
<line x1="638.80" y1="269.57" x2="642.40" y2="269.57" stroke="#111" stroke-width="1" />
<rect x="493.6" y="190.6" width="167.80" height="134.00" fill="none" stroke="#141414" stroke-width="1.3"/>
<line x1="493.60" y1="190.60" x2="493.60" y2="324.60" stroke="#333" stroke-width="1.3" />
<line x1="490.80" y1="324.60" x2="493.60" y2="324.60" stroke="#222" stroke-width="1" />
<text stroke="#231f20" stroke-width="0.28" x="488.60" y="328.40" font-size="10.8" font-weight="bold" font-style="normal" text-anchor="end" fill="#231f20" >0</text>
<line x1="490.80" y1="291.15" x2="493.60" y2="291.15" stroke="#222" stroke-width="1" />
<text stroke="#231f20" stroke-width="0.28" x="488.60" y="294.95" font-size="10.8" font-weight="bold" font-style="normal" text-anchor="end" fill="#231f20" >1</text>
<line x1="490.80" y1="257.70" x2="493.60" y2="257.70" stroke="#222" stroke-width="1" />
<text stroke="#231f20" stroke-width="0.28" x="488.60" y="261.50" font-size="10.8" font-weight="bold" font-style="normal" text-anchor="end" fill="#231f20" >2</text>
<line x1="490.80" y1="224.25" x2="493.60" y2="224.25" stroke="#222" stroke-width="1" />
<text stroke="#231f20" stroke-width="0.28" x="488.60" y="228.05" font-size="10.8" font-weight="bold" font-style="normal" text-anchor="end" fill="#231f20" >3</text>
<line x1="490.80" y1="190.80" x2="493.60" y2="190.80" stroke="#222" stroke-width="1" />
<text stroke="#231f20" stroke-width="0.28" x="488.60" y="194.60" font-size="10.8" font-weight="bold" font-style="normal" text-anchor="end" fill="#231f20" >4</text>
<line x1="493.60" y1="307.88" x2="495.40" y2="307.88" stroke="#222" stroke-width="0.9" />
<line x1="493.60" y1="274.43" x2="495.40" y2="274.43" stroke="#222" stroke-width="0.9" />
<line x1="493.60" y1="240.98" x2="495.40" y2="240.98" stroke="#222" stroke-width="0.9" />
<line x1="493.60" y1="207.53" x2="495.40" y2="207.53" stroke="#222" stroke-width="0.9" />
<line x1="521.20" y1="249.00" x2="550.20" y2="249.00" stroke="#222" stroke-width="1.3" stroke-dasharray="1.9 1.9"/>
<line x1="534.00" y1="296.50" x2="550.00" y2="296.50" stroke="#222" stroke-width="1.3" stroke-dasharray="1.9 1.9"/>
<line x1="604.50" y1="232.00" x2="633.50" y2="232.00" stroke="#222" stroke-width="1.3" stroke-dasharray="1.9 1.9"/>
<line x1="611.80" y1="262.00" x2="630.60" y2="262.00" stroke="#222" stroke-width="1.3" stroke-dasharray="1.9 1.9"/>
<line x1="537.40" y1="252.80" x2="537.40" y2="292.40" stroke="#111" stroke-width="1" />
<path d="M537.40,248.80 L535.60,253.80 L539.20,253.80 Z" fill="#111"/>
<path d="M537.40,296.40 L535.60,291.40 L539.20,291.40 Z" fill="#111"/>
<line x1="616.60" y1="236.40" x2="616.60" y2="257.60" stroke="#111" stroke-width="1" />
<path d="M616.60,232.40 L614.80,237.40 L618.40,237.40 Z" fill="#111"/>
<path d="M616.60,261.60 L614.80,256.60 L618.40,256.60 Z" fill="#111"/>
<text stroke="#231f20" stroke-width="0.28" x="539.60" y="275.80" font-size="10.8" font-weight="bold" font-style="normal" text-anchor="start" fill="#231f20" >1.4</text>
<text stroke="#231f20" stroke-width="0.28" x="619.90" y="249.90" font-size="10.8" font-weight="bold" font-style="normal" text-anchor="start" fill="#231f20" >0.9</text>
<text stroke="#231f20" stroke-width="0.28" transform="translate(472.8,255.4) rotate(-90)" font-size="11.2" font-weight="bold" text-anchor="middle" fill="#231f20">PLQY (%)</text>
<text stroke="#231f20" stroke-width="0.28" x="515.40" y="339.20" font-size="8.6" font-weight="bold" font-style="normal" text-anchor="middle" fill="#231f20" >PVK</text>
<text stroke="#231f20" stroke-width="0.28" x="598.80" y="339.20" font-size="8.6" font-weight="bold" font-style="normal" text-anchor="middle" fill="#231f20" >PVK+TPPC</text>
<text stroke="#231f20" stroke-width="0.28" x="539.8" y="339.2" font-size="8.6" font-weight="bold" fill="#231f20">PVK/C<tspan font-size="5.4" dy="1.3">60</tspan></text>
<text stroke="#231f20" stroke-width="0.28" x="623.8" y="339.2" font-size="8.6" font-weight="bold" fill="#231f20">PVK+TPPC/C<tspan font-size="5.4" dy="1.3">60</tspan></text>
</svg></body></html>
